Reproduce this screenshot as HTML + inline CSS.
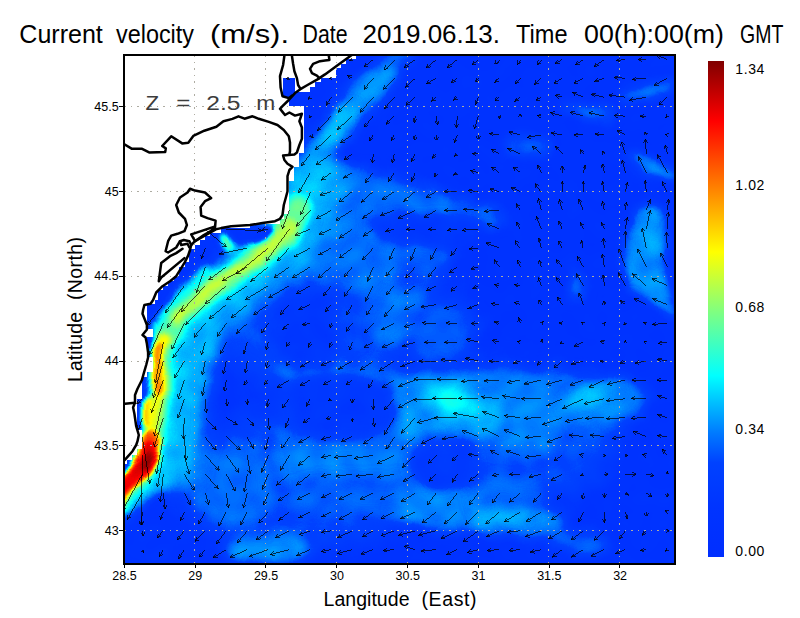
<!DOCTYPE html><html><head><meta charset="utf-8"><title>Current velocity</title>
<style>html,body{margin:0;padding:0;background:#fff}svg{display:block}text{font-family:"Liberation Sans",sans-serif;fill:#000}</style></head><body>
<svg width="800" height="618" viewBox="0 0 800 618">
<defs>
<filter id="b2" filterUnits="userSpaceOnUse" x="60" y="0" width="680" height="618" color-interpolation-filters="sRGB"><feGaussianBlur stdDeviation="2"/></filter>
<filter id="b2_5" filterUnits="userSpaceOnUse" x="60" y="0" width="680" height="618" color-interpolation-filters="sRGB"><feGaussianBlur stdDeviation="2.5"/></filter>
<filter id="b3" filterUnits="userSpaceOnUse" x="60" y="0" width="680" height="618" color-interpolation-filters="sRGB"><feGaussianBlur stdDeviation="3"/></filter>
<filter id="b3_5" filterUnits="userSpaceOnUse" x="60" y="0" width="680" height="618" color-interpolation-filters="sRGB"><feGaussianBlur stdDeviation="3.5"/></filter>
<filter id="b4" filterUnits="userSpaceOnUse" x="60" y="0" width="680" height="618" color-interpolation-filters="sRGB"><feGaussianBlur stdDeviation="4"/></filter>
<filter id="b5" filterUnits="userSpaceOnUse" x="60" y="0" width="680" height="618" color-interpolation-filters="sRGB"><feGaussianBlur stdDeviation="5"/></filter>
<filter id="b6" filterUnits="userSpaceOnUse" x="60" y="0" width="680" height="618" color-interpolation-filters="sRGB"><feGaussianBlur stdDeviation="6"/></filter>
<filter id="b7" filterUnits="userSpaceOnUse" x="60" y="0" width="680" height="618" color-interpolation-filters="sRGB"><feGaussianBlur stdDeviation="7"/></filter>
<filter id="b8" filterUnits="userSpaceOnUse" x="60" y="0" width="680" height="618" color-interpolation-filters="sRGB"><feGaussianBlur stdDeviation="8"/></filter>
<filter id="b14" filterUnits="userSpaceOnUse" x="60" y="0" width="680" height="618" color-interpolation-filters="sRGB"><feGaussianBlur stdDeviation="14"/></filter>
<filter id="jet" filterUnits="userSpaceOnUse" x="60" y="0" width="680" height="618" color-interpolation-filters="sRGB"><feTurbulence type="fractalNoise" baseFrequency="0.035" numOctaves="2" seed="7" result="n"/><feDisplacementMap in="SourceGraphic" in2="n" scale="10" xChannelSelector="R" yChannelSelector="G" result="d"/><feTurbulence type="fractalNoise" baseFrequency="0.055" numOctaves="1" seed="11" result="n2"/><feColorMatrix in="n2" type="matrix" values="1 0 0 0 0  1 0 0 0 0  1 0 0 0 0  0 0 0 0 1" result="ng"/><feComposite in="d" in2="ng" operator="arithmetic" k1="0" k2="1" k3="0.07" k4="-0.035" result="m"/><feComponentTransfer in="m"><feFuncR type="table" tableValues="0.000 0.000 0.000 0.000 0.000 0.000 0.000 0.000 0.000 0.000 0.000 0.000 0.000 0.000 0.000 0.000 0.000 0.000 0.000 0.000 0.000 0.000 0.000 0.000 0.000 0.000 0.000 0.000 0.000 0.000 0.000 0.000 0.000 0.000 0.000 0.000 0.000 0.000 0.000 0.000 0.000 0.000 0.000 0.000 0.000 0.000 0.000 0.020 0.050 0.080 0.111 0.141 0.172 0.202 0.232 0.263 0.293 0.324 0.354 0.384 0.415 0.445 0.476 0.506 0.539 0.572 0.604 0.637 0.670 0.702 0.735 0.768 0.800 0.833 0.866 0.899 0.931 0.964 0.997 1.000 1.000 1.000 1.000 1.000 1.000 1.000 1.000 1.000 1.000 1.000 1.000 1.000 1.000 1.000 1.000 1.000 1.000 1.000 1.000 1.000 1.000 1.000 1.000 1.000 1.000 1.000 1.000 1.000 1.000 1.000 1.000 1.000 0.988 0.956 0.923 0.891 0.858 0.826 0.794 0.761 0.729 0.696 0.664 0.632 0.599 0.567 0.534 0.502"/><feFuncG type="table" tableValues="0.180 0.182 0.184 0.186 0.188 0.190 0.192 0.193 0.195 0.197 0.199 0.201 0.203 0.205 0.210 0.215 0.220 0.225 0.229 0.234 0.239 0.244 0.249 0.253 0.258 0.284 0.313 0.342 0.370 0.399 0.428 0.457 0.487 0.522 0.557 0.592 0.627 0.662 0.697 0.732 0.768 0.805 0.841 0.878 0.914 0.951 0.987 1.000 1.000 1.000 1.000 1.000 1.000 1.000 1.000 1.000 1.000 1.000 1.000 1.000 1.000 1.000 1.000 1.000 1.000 1.000 1.000 1.000 1.000 1.000 1.000 1.000 1.000 1.000 1.000 1.000 1.000 1.000 1.000 0.973 0.943 0.913 0.883 0.852 0.822 0.792 0.762 0.732 0.702 0.671 0.641 0.611 0.581 0.551 0.521 0.491 0.461 0.432 0.402 0.373 0.343 0.314 0.284 0.255 0.225 0.196 0.166 0.137 0.107 0.078 0.048 0.019 0.000 0.000 0.000 0.000 0.000 0.000 0.000 0.000 0.000 0.000 0.000 0.000 0.000 0.000 0.000 0.000"/><feFuncB type="table" tableValues="1.000 1.000 1.000 1.000 1.000 1.000 1.000 1.000 1.000 1.000 1.000 1.000 1.000 1.000 1.000 1.000 1.000 1.000 1.000 1.000 1.000 1.000 1.000 1.000 1.000 1.000 1.000 1.000 1.000 1.000 1.000 1.000 1.000 1.000 1.000 1.000 1.000 1.000 1.000 1.000 1.000 1.000 1.000 1.000 1.000 1.000 1.000 0.981 0.950 0.920 0.890 0.860 0.830 0.800 0.769 0.739 0.709 0.679 0.649 0.619 0.588 0.558 0.528 0.498 0.465 0.432 0.399 0.366 0.333 0.300 0.267 0.234 0.201 0.168 0.135 0.102 0.069 0.036 0.003 0.000 0.000 0.000 0.000 0.000 0.000 0.000 0.000 0.000 0.000 0.000 0.000 0.000 0.000 0.000 0.000 0.000 0.000 0.000 0.000 0.000 0.000 0.000 0.000 0.000 0.000 0.000 0.000 0.000 0.000 0.000 0.000 0.000 0.000 0.000 0.000 0.000 0.000 0.000 0.000 0.000 0.000 0.000 0.000 0.000 0.000 0.000 0.000 0.000"/></feComponentTransfer></filter>
<clipPath id="pc"><rect x="124.0" y="55.0" width="551.0" height="509.0"/></clipPath>
<linearGradient id="cb" x1="0" y1="0" x2="0" y2="1"><stop offset="0.000" stop-color="rgb(128,0,0)"/><stop offset="0.121" stop-color="rgb(255,0,0)"/><stop offset="0.255" stop-color="rgb(255,128,0)"/><stop offset="0.385" stop-color="rgb(255,255,0)"/><stop offset="0.505" stop-color="rgb(128,255,128)"/><stop offset="0.635" stop-color="rgb(0,255,255)"/><stop offset="0.690" stop-color="rgb(0,190,255)"/><stop offset="0.750" stop-color="rgb(0,122,255)"/><stop offset="0.810" stop-color="rgb(0,66,255)"/><stop offset="0.900" stop-color="rgb(0,52,255)"/><stop offset="1.000" stop-color="rgb(0,46,255)"/></linearGradient>
</defs>
<rect width="800" height="618" fill="#fff"/>
<g clip-path="url(#pc)"><g filter="url(#jet)">
<rect x="80" y="20" width="640" height="580" fill="#171717"/>
<g filter="url(#b14)" fill="none" stroke-linecap="round" stroke-linejoin="round">
<path d="M428.3 221.2 C437.4 234.1 442.7 252.3 442.4 269.3 C442.0 286.3 436.0 306.6 426.3 323.0 C416.7 339.4 400.9 356.3 384.5 367.8 C368.1 379.3 346.8 388.4 328.0 391.8 C309.3 395.3 288.2 394.0 272.1 388.5 C256.1 383.0 240.8 371.8 231.7 358.8 C222.6 345.9 217.3 327.7 217.6 310.7 C218.0 293.7 224.0 273.4 233.7 257.0 C243.3 240.6 259.1 223.7 275.5 212.2 C291.9 200.7 313.2 191.6 332.0 188.2 C350.7 184.7 371.8 186.0 387.9 191.5 C403.9 197.0 419.2 208.2 428.3 221.2Z" fill="#333333"/>
<path d="M430.0 480.0 C430.0 491.7 423.4 504.9 412.6 515.0 C401.7 525.1 383.8 534.8 365.0 540.6 C346.2 546.5 321.7 550.0 300.0 550.0 C278.3 550.0 253.8 546.5 235.0 540.6 C216.2 534.8 198.3 525.1 187.4 515.0 C176.6 504.9 170.0 491.7 170.0 480.0 C170.0 468.3 176.6 455.1 187.4 445.0 C198.3 434.9 216.2 425.2 235.0 419.4 C253.8 413.5 278.3 410.0 300.0 410.0 C321.7 410.0 346.2 413.5 365.0 419.4 C383.8 425.2 401.7 434.9 412.6 445.0 C423.4 455.1 430.0 468.3 430.0 480.0Z" fill="#333333"/>
<path d="M620.0 440.0 C620.0 452.5 612.4 466.7 599.9 477.5 C587.4 488.3 566.7 498.7 545.0 505.0 C523.3 511.2 495.0 515.0 470.0 515.0 C445.0 515.0 416.7 511.2 395.0 505.0 C373.3 498.7 352.6 488.3 340.1 477.5 C327.6 466.7 320.0 452.5 320.0 440.0 C320.0 427.5 327.6 413.3 340.1 402.5 C352.6 391.7 373.3 381.3 395.0 375.0 C416.7 368.8 445.0 365.0 470.0 365.0 C495.0 365.0 523.3 368.8 545.0 375.0 C566.7 381.3 587.4 391.7 599.9 402.5 C612.4 413.3 620.0 427.5 620.0 440.0Z" fill="#333333"/>
</g>
<g filter="url(#b6)" fill="none" stroke-linecap="round" stroke-linejoin="round">
<path d="M408.0 46.0 C405.3 48.7 397.5 55.7 392.0 62.0 C386.5 68.3 377.8 80.3 375.0 84.0" stroke="#3e3e3e" stroke-width="20"/>
<path d="M380.0 80.0 C375.8 84.0 362.7 95.7 355.0 104.0 C347.3 112.3 340.0 121.5 334.0 130.0 C328.0 138.5 323.3 146.3 319.0 155.0 C314.7 163.7 311.0 173.2 308.0 182.0 C305.0 190.8 302.2 203.7 301.0 208.0" stroke="#474747" stroke-width="33"/>
</g>
<g filter="url(#b4)" fill="none" stroke-linecap="round" stroke-linejoin="round">
<path d="M347.0 110.0 C344.2 113.8 335.2 124.7 330.0 133.0 C324.8 141.3 320.0 150.5 316.0 160.0 C312.0 169.5 307.7 185.0 306.0 190.0" stroke="#4e4e4e" stroke-width="13"/>
</g>
<g filter="url(#b6)" fill="none" stroke-linecap="round" stroke-linejoin="round">
<path d="M318.0 160.0 C322.2 153.0 331.3 160.0 345.0 163.0 C358.7 166.0 383.3 172.8 400.0 178.0 C416.7 183.2 437.5 187.8 445.0 194.0 C452.5 200.2 455.8 212.0 445.0 215.0 C434.2 218.0 400.8 213.7 380.0 212.0 C359.2 210.3 330.3 213.7 320.0 205.0 C309.7 196.3 313.8 167.0 318.0 160.0Z" fill="#3c3c3c"/>
<path d="M305.0 215.0 C299.2 220.8 283.8 238.3 270.0 250.0 C256.2 261.7 235.0 272.5 222.0 285.0 C209.0 297.5 199.5 309.2 192.0 325.0 C184.5 340.8 180.7 362.5 177.0 380.0 C173.3 397.5 171.8 415.3 170.0 430.0 C168.2 444.7 166.7 461.7 166.0 468.0" stroke="#3c3c3c" stroke-width="40"/>
<path d="M335.0 185.0 C342.5 179.2 364.2 179.2 380.0 180.0 C395.8 180.8 410.8 185.3 430.0 190.0 C449.2 194.7 483.3 202.2 495.0 208.0 C506.7 213.8 509.2 222.7 500.0 225.0 C490.8 227.3 460.0 223.7 440.0 222.0 C420.0 220.3 397.5 216.2 380.0 215.0 C362.5 213.8 342.5 220.0 335.0 215.0 C327.5 210.0 327.5 190.8 335.0 185.0Z" fill="#3c3c3c"/>
<path d="M298.0 212.0 C310.5 201.2 349.3 200.3 360.0 205.0 C370.7 209.7 365.3 229.2 362.0 240.0 C358.7 250.8 348.7 262.5 340.0 270.0 C331.3 277.5 319.2 285.0 310.0 285.0 C300.8 285.0 287.0 282.2 285.0 270.0 C283.0 257.8 285.5 222.8 298.0 212.0Z" fill="#3e3e3e"/>
<path d="M345.0 236.0 C352.8 231.0 375.8 227.7 385.0 232.0 C394.2 236.3 400.8 250.7 400.0 262.0 C399.2 273.3 388.0 295.0 380.0 300.0 C372.0 305.0 359.0 298.3 352.0 292.0 C345.0 285.7 339.2 271.3 338.0 262.0 C336.8 252.7 337.2 241.0 345.0 236.0Z" fill="#3e3e3e"/>
</g>
<g filter="url(#b7)" fill="none" stroke-linecap="round" stroke-linejoin="round">
<path d="M456.0 257.0 C456.0 259.3 454.1 262.0 450.9 264.0 C447.7 266.0 442.5 268.0 437.0 269.1 C431.5 270.3 424.3 271.0 418.0 271.0 C411.7 271.0 404.5 270.3 399.0 269.1 C393.5 268.0 388.3 266.0 385.1 264.0 C381.9 262.0 380.0 259.3 380.0 257.0 C380.0 254.7 381.9 252.0 385.1 250.0 C388.3 248.0 393.5 246.0 399.0 244.9 C404.5 243.7 411.7 243.0 418.0 243.0 C424.3 243.0 431.5 243.7 437.0 244.9 C442.5 246.0 447.7 248.0 450.9 250.0 C454.1 252.0 456.0 254.7 456.0 257.0Z" fill="#3b3b3b"/>
</g>
<g filter="url(#b6)" fill="none" stroke-linecap="round" stroke-linejoin="round">
<path d="M392.0 290.0 C398.7 287.0 416.2 286.2 420.0 292.0 C423.8 297.8 419.7 315.3 415.0 325.0 C410.3 334.7 398.7 347.5 392.0 350.0 C385.3 352.5 377.0 346.7 375.0 340.0 C373.0 333.3 377.2 318.3 380.0 310.0 C382.8 301.7 385.3 293.0 392.0 290.0Z" fill="#404040"/>
</g>
<g filter="url(#b8)" fill="none" stroke-linecap="round" stroke-linejoin="round">
<path d="M478.0 330.0 C478.0 335.7 476.1 342.1 472.9 347.0 C469.7 351.9 464.5 356.6 459.0 359.4 C453.5 362.3 446.3 364.0 440.0 364.0 C433.7 364.0 426.5 362.3 421.0 359.4 C415.5 356.6 410.3 351.9 407.1 347.0 C403.9 342.1 402.0 335.7 402.0 330.0 C402.0 324.3 403.9 317.9 407.1 313.0 C410.3 308.1 415.5 303.4 421.0 300.6 C426.5 297.7 433.7 296.0 440.0 296.0 C446.3 296.0 453.5 297.7 459.0 300.6 C464.5 303.4 469.7 308.1 472.9 313.0 C476.1 317.9 478.0 324.3 478.0 330.0Z" fill="#373737"/>
</g>
<g filter="url(#b6)" fill="none" stroke-linecap="round" stroke-linejoin="round">
<path d="M280.0 362.0 C289.2 359.0 315.0 360.3 335.0 362.0 C355.0 363.7 390.5 368.2 400.0 372.0 C409.5 375.8 403.7 383.7 392.0 385.0 C380.3 386.3 348.7 380.8 330.0 380.0 C311.3 379.2 288.3 383.0 280.0 380.0 C271.7 377.0 270.8 365.0 280.0 362.0Z" fill="#3d3d3d"/>
<path d="M392.0 378.0 C399.5 371.7 425.0 372.0 440.0 372.0 C455.0 372.0 475.0 367.0 482.0 378.0 C489.0 389.0 489.0 429.0 482.0 438.0 C475.0 447.0 450.7 430.8 440.0 432.0 C429.3 433.2 426.7 442.8 418.0 445.0 C409.3 447.2 391.8 450.8 388.0 445.0 C384.2 439.2 394.3 421.2 395.0 410.0 C395.7 398.8 384.5 384.3 392.0 378.0Z" fill="#454545"/>
</g>
<g filter="url(#b7)" fill="none" stroke-linecap="round" stroke-linejoin="round">
<path d="M480.0 376.0 C493.3 364.8 540.0 372.8 560.0 373.0 C580.0 373.2 587.5 375.8 600.0 377.0 C612.5 378.2 626.7 377.5 635.0 380.0 C643.3 382.5 649.2 386.2 650.0 392.0 C650.8 397.8 648.3 408.3 640.0 415.0 C631.7 421.7 613.3 429.5 600.0 432.0 C586.7 434.5 569.2 426.0 560.0 430.0 C550.8 434.0 555.0 452.7 545.0 456.0 C535.0 459.3 510.8 452.7 500.0 450.0 C489.2 447.3 483.3 452.3 480.0 440.0 C476.7 427.7 466.7 387.2 480.0 376.0Z" fill="#424242"/>
</g>
<g filter="url(#b6)" fill="none" stroke-linecap="round" stroke-linejoin="round">
<path d="M280.0 437.0 C290.0 430.7 318.3 440.2 340.0 440.0 C361.7 439.8 398.3 429.7 410.0 436.0 C421.7 442.3 421.7 470.3 410.0 478.0 C398.3 485.7 361.7 482.0 340.0 482.0 C318.3 482.0 290.0 485.5 280.0 478.0 C270.0 470.5 270.0 443.3 280.0 437.0Z" fill="#404040"/>
</g>
<g filter="url(#b8)" fill="none" stroke-linecap="round" stroke-linejoin="round">
<path d="M480.0 500.0 C480.0 503.0 474.9 506.4 466.6 509.0 C458.3 511.6 444.4 514.1 430.0 515.6 C415.6 517.1 396.7 518.0 380.0 518.0 C363.3 518.0 344.4 517.1 330.0 515.6 C315.6 514.1 301.7 511.6 293.4 509.0 C285.1 506.4 280.0 503.0 280.0 500.0 C280.0 497.0 285.1 493.6 293.4 491.0 C301.7 488.4 315.6 485.9 330.0 484.4 C344.4 482.9 363.3 482.0 380.0 482.0 C396.7 482.0 415.6 482.9 430.0 484.4 C444.4 485.9 458.3 488.4 466.6 491.0 C474.9 493.6 480.0 497.0 480.0 500.0Z" fill="#393939"/>
</g>
<g filter="url(#b6)" fill="none" stroke-linecap="round" stroke-linejoin="round">
<path d="M399.0 487.0 C405.8 481.2 423.2 483.7 440.0 485.0 C456.8 486.3 480.0 490.5 500.0 495.0 C520.0 499.5 550.7 505.2 560.0 512.0 C569.3 518.8 566.0 532.0 556.0 536.0 C546.0 540.0 519.3 537.3 500.0 536.0 C480.7 534.7 456.8 530.7 440.0 528.0 C423.2 525.3 405.8 526.8 399.0 520.0 C392.2 513.2 392.2 492.8 399.0 487.0Z" fill="#424242"/>
<path d="M611.9 544.8 C611.7 546.9 609.9 549.3 607.0 550.9 C604.2 552.5 599.7 553.9 595.0 554.6 C590.3 555.3 584.2 555.4 578.9 555.0 C573.6 554.5 567.6 553.3 563.1 551.8 C558.6 550.3 554.3 548.2 551.8 546.1 C549.3 544.0 547.9 541.4 548.1 539.2 C548.3 537.1 550.1 534.7 553.0 533.1 C555.8 531.5 560.3 530.1 565.0 529.4 C569.7 528.7 575.8 528.6 581.1 529.0 C586.4 529.5 592.4 530.7 596.9 532.2 C601.4 533.7 605.7 535.8 608.2 537.9 C610.7 540.0 612.1 542.6 611.9 544.8Z" fill="#393939"/>
</g>
<g filter="url(#b7)" fill="none" stroke-linecap="round" stroke-linejoin="round">
<path d="M542.0 498.0 C542.0 501.0 540.3 504.4 537.4 507.0 C534.6 509.6 529.9 512.1 525.0 513.6 C520.1 515.1 513.7 516.0 508.0 516.0 C502.3 516.0 495.9 515.1 491.0 513.6 C486.1 512.1 481.4 509.6 478.6 507.0 C475.7 504.4 474.0 501.0 474.0 498.0 C474.0 495.0 475.7 491.6 478.6 489.0 C481.4 486.4 486.1 483.9 491.0 482.4 C495.9 480.9 502.3 480.0 508.0 480.0 C513.7 480.0 520.1 480.9 525.0 482.4 C529.9 483.9 534.6 486.4 537.4 489.0 C540.3 491.6 542.0 495.0 542.0 498.0Z" fill="#3d3d3d"/>
</g>
<g filter="url(#b8)" fill="none" stroke-linecap="round" stroke-linejoin="round">
<path d="M274.0 485.0 C274.0 492.5 271.9 501.0 268.4 507.5 C264.9 514.0 259.1 520.2 253.0 524.0 C246.9 527.7 239.0 530.0 232.0 530.0 C225.0 530.0 217.1 527.7 211.0 524.0 C204.9 520.2 199.1 514.0 195.6 507.5 C192.1 501.0 190.0 492.5 190.0 485.0 C190.0 477.5 192.1 469.0 195.6 462.5 C199.1 456.0 204.9 449.8 211.0 446.0 C217.1 442.3 225.0 440.0 232.0 440.0 C239.0 440.0 246.9 442.3 253.0 446.0 C259.1 449.8 264.9 456.0 268.4 462.5 C271.9 469.0 274.0 477.5 274.0 485.0Z" fill="#3c3c3c"/>
</g>
<g filter="url(#b6)" fill="none" stroke-linecap="round" stroke-linejoin="round">
<path d="M232.0 536.0 C243.3 531.7 288.0 532.0 300.0 536.0 C312.0 540.0 315.3 555.7 304.0 560.0 C292.7 564.3 244.0 566.0 232.0 562.0 C220.0 558.0 220.7 540.3 232.0 536.0Z" fill="#444444"/>
</g>
<g filter="url(#b5)" fill="none" stroke-linecap="round" stroke-linejoin="round">
<path d="M620.0 96.0 C622.8 92.7 637.0 86.7 645.0 84.0 C653.0 81.3 663.3 79.2 668.0 80.0 C672.7 80.8 675.2 86.0 673.0 89.0 C670.8 92.0 662.5 95.5 655.0 98.0 C647.5 100.5 633.8 104.3 628.0 104.0 C622.2 103.7 617.2 99.3 620.0 96.0Z" fill="#404040"/>
<path d="M567.0 103.0 C573.7 102.0 600.7 105.2 608.0 108.0 C615.3 110.8 617.7 119.0 611.0 120.0 C604.3 121.0 575.3 116.8 568.0 114.0 C560.7 111.2 560.3 104.0 567.0 103.0Z" fill="#3d3d3d"/>
<path d="M507.0 137.0 C513.3 134.0 538.7 134.0 545.0 137.0 C551.3 140.0 551.3 152.0 545.0 155.0 C538.7 158.0 513.3 158.0 507.0 155.0 C500.7 152.0 500.7 140.0 507.0 137.0Z" fill="#373737"/>
<path d="M628.0 152.0 C629.7 149.3 642.2 153.0 650.0 156.0 C657.8 159.0 670.8 165.7 675.0 170.0 C679.2 174.3 680.8 181.7 675.0 182.0 C669.2 182.3 647.8 177.0 640.0 172.0 C632.2 167.0 626.3 154.7 628.0 152.0Z" fill="#444444"/>
<path d="M636.0 209.0 C642.0 203.8 659.0 200.5 664.0 209.0 C669.0 217.5 664.2 244.8 666.0 260.0 C667.8 275.2 673.5 290.7 675.0 300.0 C676.5 309.3 680.8 316.7 675.0 316.0 C669.2 315.3 648.8 303.3 640.0 296.0 C631.2 288.7 624.0 281.3 622.0 272.0 C620.0 262.7 625.7 250.5 628.0 240.0 C630.3 229.5 630.0 214.2 636.0 209.0Z" fill="#454545"/>
</g>
<g filter="url(#b4)" fill="none" stroke-linecap="round" stroke-linejoin="round">
<path d="M657.9 239.1 C657.4 243.1 656.3 247.5 655.2 250.8 C654.0 254.2 652.5 257.3 651.1 259.1 C649.6 261.0 648.0 262.0 646.7 261.8 C645.3 261.6 644.0 260.2 643.1 258.0 C642.3 255.9 641.6 252.4 641.5 248.9 C641.3 245.4 641.5 240.8 642.1 236.9 C642.6 232.9 643.7 228.5 644.8 225.2 C646.0 221.8 647.5 218.7 648.9 216.9 C650.4 215.0 652.0 214.0 653.3 214.2 C654.7 214.4 656.0 215.8 656.9 218.0 C657.7 220.1 658.4 223.6 658.5 227.1 C658.7 230.6 658.5 235.2 657.9 239.1Z" fill="#4a4a4a"/>
</g>
<g filter="url(#b5)" fill="none" stroke-linecap="round" stroke-linejoin="round">
<path d="M570.0 276.0 C572.5 272.2 582.5 272.2 585.0 276.0 C587.5 279.8 587.5 295.2 585.0 299.0 C582.5 302.8 572.5 302.8 570.0 299.0 C567.5 295.2 567.5 279.8 570.0 276.0Z" fill="#383838"/>
<path d="M480.0 209.0 C482.5 205.7 492.5 205.7 495.0 209.0 C497.5 212.3 497.5 225.7 495.0 229.0 C492.5 232.3 482.5 232.3 480.0 229.0 C477.5 225.7 477.5 212.3 480.0 209.0Z" fill="#3b3b3b"/>
</g>
<g filter="url(#b7)" fill="none" stroke-linecap="round" stroke-linejoin="round">
<path d="M282.0 300.0 C290.8 292.0 315.7 287.0 325.0 292.0 C334.3 297.0 337.2 318.3 338.0 330.0 C338.8 341.7 337.2 356.2 330.0 362.0 C322.8 367.8 304.7 368.7 295.0 365.0 C285.3 361.3 274.2 350.8 272.0 340.0 C269.8 329.2 273.2 308.0 282.0 300.0Z" fill="#1f1f1f"/>
</g>
<g filter="url(#b6)" fill="none" stroke-linecap="round" stroke-linejoin="round">
<path d="M308.0 382.0 C320.7 374.3 369.3 376.3 382.0 384.0 C394.7 391.7 390.2 419.7 384.0 428.0 C377.8 436.3 358.0 433.7 345.0 434.0 C332.0 434.3 312.2 438.7 306.0 430.0 C299.8 421.3 295.3 389.7 308.0 382.0Z" fill="#212121"/>
<path d="M418.0 447.0 C426.3 441.2 459.3 441.2 468.0 447.0 C476.7 452.8 478.3 476.2 470.0 482.0 C461.7 487.8 426.7 487.8 418.0 482.0 C409.3 476.2 409.7 452.8 418.0 447.0Z" fill="#242424"/>
<path d="M385.0 220.0 C400.5 217.0 462.5 216.7 478.0 220.0 C493.5 223.3 493.5 237.0 478.0 240.0 C462.5 243.0 400.5 241.3 385.0 238.0 C369.5 234.7 369.5 223.0 385.0 220.0Z" fill="#212121"/>
</g>
<g filter="url(#b4)" fill="none" stroke-linecap="round" stroke-linejoin="round">
<path d="M350.0 108.0 L334.0 130.0" stroke="#4c4c4c" stroke-width="12"/>
</g>
<g filter="url(#b5)" fill="none" stroke-linecap="round" stroke-linejoin="round">
<path d="M501.7 424.4 C500.1 427.8 496.3 430.5 491.5 431.8 C486.6 433.1 479.6 433.1 472.8 432.0 C466.0 430.8 457.7 428.2 450.7 424.9 C443.8 421.7 436.3 417.0 431.1 412.5 C425.9 408.1 421.4 402.6 419.2 398.1 C417.1 393.6 416.8 388.9 418.3 385.6 C419.9 382.2 423.7 379.5 428.5 378.2 C433.4 376.9 440.4 376.9 447.2 378.0 C454.0 379.2 462.3 381.8 469.3 385.1 C476.2 388.3 483.7 393.0 488.9 397.5 C494.1 401.9 498.6 407.4 500.8 411.9 C502.9 416.4 503.2 421.1 501.7 424.4Z" fill="#4c4c4c"/>
</g>
<g filter="url(#b4)" fill="none" stroke-linecap="round" stroke-linejoin="round">
<path d="M481.3 411.6 C480.4 414.1 478.0 416.4 475.1 417.8 C472.1 419.2 467.7 419.9 463.4 419.8 C459.2 419.7 453.9 418.6 449.5 417.0 C445.1 415.4 440.4 412.9 437.1 410.2 C433.8 407.6 430.9 404.2 429.5 401.2 C428.1 398.3 427.8 394.9 428.7 392.4 C429.6 389.9 432.0 387.6 434.9 386.2 C437.9 384.8 442.3 384.1 446.6 384.2 C450.8 384.3 456.1 385.4 460.5 387.0 C464.9 388.6 469.6 391.1 472.9 393.8 C476.2 396.4 479.1 399.8 480.5 402.8 C481.9 405.7 482.2 409.1 481.3 411.6Z" fill="#555555"/>
</g>
<g filter="url(#b3)" fill="none" stroke-linecap="round" stroke-linejoin="round">
<path d="M465.8 402.3 C465.5 403.7 464.6 405.3 463.3 406.4 C462.0 407.5 460.0 408.4 458.0 408.8 C456.1 409.2 453.6 409.2 451.4 408.9 C449.3 408.5 447.0 407.6 445.2 406.5 C443.5 405.5 442.0 403.9 441.1 402.5 C440.3 401.0 439.9 399.2 440.2 397.7 C440.5 396.3 441.4 394.7 442.7 393.6 C444.0 392.5 446.0 391.6 448.0 391.2 C449.9 390.8 452.4 390.8 454.6 391.1 C456.7 391.5 459.0 392.4 460.8 393.5 C462.5 394.5 464.0 396.1 464.9 397.5 C465.7 399.0 466.1 400.8 465.8 402.3Z" fill="#606060"/>
</g>
<g filter="url(#b4)" fill="none" stroke-linecap="round" stroke-linejoin="round">
<path d="M578.0 384.0 C578.0 385.0 577.6 386.1 576.9 387.0 C576.3 387.9 575.2 388.7 574.0 389.2 C572.8 389.7 571.3 390.0 570.0 390.0 C568.7 390.0 567.2 389.7 566.0 389.2 C564.8 388.7 563.7 387.9 563.1 387.0 C562.4 386.1 562.0 385.0 562.0 384.0 C562.0 383.0 562.4 381.9 563.1 381.0 C563.7 380.1 564.8 379.3 566.0 378.8 C567.2 378.3 568.7 378.0 570.0 378.0 C571.3 378.0 572.8 378.3 574.0 378.8 C575.2 379.3 576.3 380.1 576.9 381.0 C577.6 381.9 578.0 383.0 578.0 384.0Z" fill="#373737"/>
<path d="M592.0 429.0 C592.0 430.0 591.5 431.1 590.7 432.0 C589.8 432.9 588.4 433.7 587.0 434.2 C585.6 434.7 583.7 435.0 582.0 435.0 C580.3 435.0 578.4 434.7 577.0 434.2 C575.6 433.7 574.2 432.9 573.3 432.0 C572.5 431.1 572.0 430.0 572.0 429.0 C572.0 428.0 572.5 426.9 573.3 426.0 C574.2 425.1 575.6 424.3 577.0 423.8 C578.4 423.3 580.3 423.0 582.0 423.0 C583.7 423.0 585.6 423.3 587.0 423.8 C588.4 424.3 589.8 425.1 590.7 426.0 C591.5 426.9 592.0 428.0 592.0 429.0Z" fill="#373737"/>
</g>
<g filter="url(#b5)" fill="none" stroke-linecap="round" stroke-linejoin="round">
<path d="M620.2 385.7 C620.8 387.5 620.1 389.9 618.3 392.3 C616.5 394.6 613.1 397.5 609.4 399.8 C605.6 402.2 600.5 404.6 595.8 406.3 C591.1 408.0 585.5 409.5 581.2 410.1 C576.8 410.7 572.4 410.7 569.5 410.1 C566.6 409.4 564.4 408.0 563.8 406.3 C563.2 404.5 563.9 402.1 565.7 399.7 C567.5 397.4 570.9 394.5 574.6 392.2 C578.4 389.8 583.5 387.4 588.2 385.7 C592.9 384.0 598.5 382.5 602.8 381.9 C607.2 381.3 611.6 381.3 614.5 381.9 C617.4 382.6 619.6 384.0 620.2 385.7Z" fill="#4c4c4c"/>
</g>
<g filter="url(#b4)" fill="none" stroke-linecap="round" stroke-linejoin="round">
<path d="M603.2 390.2 C603.5 391.2 603.2 392.5 602.4 393.7 C601.6 394.9 600.1 396.3 598.4 397.5 C596.6 398.6 594.2 399.8 592.1 400.6 C589.9 401.4 587.3 402.1 585.2 402.3 C583.1 402.5 581.0 402.4 579.6 402.0 C578.2 401.6 577.2 400.7 576.8 399.8 C576.5 398.8 576.8 397.5 577.6 396.3 C578.4 395.1 579.9 393.7 581.6 392.5 C583.4 391.4 585.8 390.2 587.9 389.4 C590.1 388.6 592.7 387.9 594.8 387.7 C596.9 387.5 599.0 387.6 600.4 388.0 C601.8 388.4 602.8 389.3 603.2 390.2Z" fill="#545454"/>
<path d="M480.0 516.0 L525.0 518.0" stroke="#4a4a4a" stroke-width="14"/>
</g>
<g filter="url(#b8)" fill="none" stroke-linecap="round" stroke-linejoin="round">
<path d="M316.0 178.0 C313.8 185.3 311.0 208.7 303.0 222.0 C295.0 235.3 280.5 246.3 268.0 258.0 C255.5 269.7 239.3 280.3 228.0 292.0 C216.7 303.7 207.2 314.7 200.0 328.0 C192.8 341.3 188.8 356.7 185.0 372.0 C181.2 387.3 179.5 405.0 177.0 420.0 C174.5 435.0 171.2 455.0 170.0 462.0" stroke="#4c4c4c" stroke-width="58"/>
</g>
<g filter="url(#b5)" fill="none" stroke-linecap="round" stroke-linejoin="round">
<path d="M306.0 190.0 C304.3 195.3 302.3 211.7 296.0 222.0 C289.7 232.3 278.0 243.0 268.0 252.0 C258.0 261.0 246.5 268.3 236.0 276.0 C225.5 283.7 214.0 290.3 205.0 298.0 C196.0 305.7 187.8 311.7 182.0 322.0 C176.2 332.3 173.0 345.3 170.0 360.0 C167.0 374.7 166.0 395.0 164.0 410.0 C162.0 425.0 161.0 438.3 158.0 450.0 C155.0 461.7 152.7 470.7 146.0 480.0 C139.3 489.3 122.7 501.7 118.0 506.0" stroke="#525252" stroke-width="32"/>
</g>
<g filter="url(#b4)" fill="none" stroke-linecap="round" stroke-linejoin="round">
<path d="M204.0 274.0 C199.7 278.0 185.7 289.0 178.0 298.0 C170.3 307.0 161.3 323.0 158.0 328.0" stroke="#616161" stroke-width="14"/>
</g>
<g filter="url(#b3_5)" fill="none" stroke-linecap="round" stroke-linejoin="round">
<path d="M298.0 205.0 C296.5 209.2 294.0 222.5 289.0 230.0 C284.0 237.5 276.5 243.0 268.0 250.0 C259.5 257.0 248.0 265.0 238.0 272.0 C228.0 279.0 217.2 285.2 208.0 292.0 C198.8 298.8 190.2 304.5 183.0 313.0 C175.8 321.5 169.0 329.3 165.0 343.0 C161.0 356.7 160.8 379.7 159.0 395.0 C157.2 410.3 156.8 422.2 154.0 435.0 C151.2 447.8 148.0 460.7 142.0 472.0 C136.0 483.3 122.0 497.8 118.0 503.0" stroke="#757575" stroke-width="22"/>
</g>
<g filter="url(#b3)" fill="none" stroke-linecap="round" stroke-linejoin="round">
<path d="M291.0 222.0 C289.5 224.5 285.8 232.3 282.0 237.0 C278.2 241.7 275.0 244.5 268.0 250.0 C261.0 255.5 249.3 263.7 240.0 270.0 C230.7 276.3 220.0 282.3 212.0 288.0 C204.0 293.7 198.0 298.7 192.0 304.0 C186.0 309.3 178.7 317.3 176.0 320.0" stroke="#8f8f8f" stroke-width="11"/>
</g>
<g filter="url(#b2_5)" fill="none" stroke-linecap="round" stroke-linejoin="round">
<path d="M226.0 232.0 C233.0 229.7 265.0 226.7 272.0 228.0 C279.0 229.3 272.0 237.2 268.0 240.0 C264.0 242.8 254.3 244.7 248.0 245.0 C241.7 245.3 233.7 244.2 230.0 242.0 C226.3 239.8 219.0 234.3 226.0 232.0Z" fill="#1a1a1a"/>
</g>
<g filter="url(#b3)" fill="none" stroke-linecap="round" stroke-linejoin="round">
<path d="M222.0 236.0 L230.0 248.0" stroke="#858585" stroke-width="8"/>
</g>
<g filter="url(#b7)" fill="none" stroke-linecap="round" stroke-linejoin="round">
<path d="M190.0 545.0 C190.0 550.0 188.0 555.7 184.6 560.0 C181.3 564.3 175.8 568.5 170.0 571.0 C164.2 573.5 156.7 575.0 150.0 575.0 C143.3 575.0 135.8 573.5 130.0 571.0 C124.2 568.5 118.7 564.3 115.4 560.0 C112.0 555.7 110.0 550.0 110.0 545.0 C110.0 540.0 112.0 534.3 115.4 530.0 C118.7 525.7 124.2 521.5 130.0 519.0 C135.8 516.5 143.3 515.0 150.0 515.0 C156.7 515.0 164.2 516.5 170.0 519.0 C175.8 521.5 181.3 525.7 184.6 530.0 C188.0 534.3 190.0 540.0 190.0 545.0Z" fill="#1a1a1a"/>
</g>
<g filter="url(#b3)" fill="none" stroke-linecap="round" stroke-linejoin="round">
<path d="M165.0 338.0 C164.2 341.0 161.2 346.5 160.0 356.0 C158.8 365.5 159.2 382.3 158.0 395.0 C156.8 407.7 155.8 419.8 153.0 432.0 C150.2 444.2 146.8 457.0 141.0 468.0 C135.2 479.0 121.8 493.0 118.0 498.0" stroke="#9e9e9e" stroke-width="12"/>
</g>
<g filter="url(#b2_5)" fill="none" stroke-linecap="round" stroke-linejoin="round">
<path d="M160.0 348.0 C159.5 351.3 157.7 360.7 157.0 368.0 C156.3 375.3 156.2 388.0 156.0 392.0" stroke="#bdbdbd" stroke-width="8"/>
<path d="M148.0 402.0 L148.0 425.0" stroke="#b2b2b2" stroke-width="7"/>
<path d="M151.0 441.0 C150.3 443.7 150.3 450.5 147.0 457.0 C143.7 463.5 136.2 473.2 131.0 480.0 C125.8 486.8 118.5 495.0 116.0 498.0" stroke="#cccccc" stroke-width="18"/>
</g>
<g filter="url(#b2)" fill="none" stroke-linecap="round" stroke-linejoin="round">
<path d="M150.0 448.0 C149.5 450.0 149.8 455.0 147.0 460.0 C144.2 465.0 137.8 472.3 133.0 478.0 C128.2 483.7 120.5 491.3 118.0 494.0" stroke="#e6e6e6" stroke-width="13"/>
<path d="M149.0 454.0 L144.0 467.0" stroke="#fafafa" stroke-width="6"/>
</g>
</g>
<g fill="#fff" shape-rendering="crispEdges">
<rect x="123.00" y="54.00" width="233.25" height="4.80"/>
<rect x="123.00" y="58.75" width="223.25" height="4.80"/>
<rect x="123.00" y="63.50" width="218.25" height="4.75"/>
<rect x="123.00" y="68.20" width="213.00" height="9.45"/>
<rect x="123.00" y="77.60" width="160.10" height="4.75"/>
<rect x="295.00" y="77.60" width="25.60" height="4.75"/>
<rect x="123.00" y="82.30" width="160.10" height="4.75"/>
<rect x="295.00" y="82.30" width="20.00" height="4.75"/>
<rect x="123.00" y="87.00" width="160.10" height="4.75"/>
<rect x="295.00" y="87.00" width="15.00" height="4.75"/>
<rect x="123.00" y="91.70" width="160.10" height="4.85"/>
<rect x="123.00" y="96.50" width="165.75" height="9.45"/>
<rect x="123.00" y="105.90" width="181.00" height="47.15"/>
<rect x="123.00" y="153.00" width="176.00" height="14.15"/>
<rect x="123.00" y="167.10" width="170.75" height="14.25"/>
<rect x="123.00" y="181.30" width="165.50" height="33.05"/>
<rect x="123.00" y="214.30" width="161.00" height="4.75"/>
<rect x="123.00" y="219.00" width="157.00" height="4.75"/>
<rect x="123.00" y="223.70" width="127.00" height="4.75"/>
<rect x="123.00" y="228.40" width="98.00" height="4.15"/>
<rect x="123.00" y="232.50" width="87.00" height="3.15"/>
<rect x="123.00" y="235.60" width="82.00" height="4.45"/>
<rect x="123.00" y="240.00" width="77.00" height="5.05"/>
<rect x="123.00" y="245.00" width="72.00" height="4.45"/>
<rect x="123.00" y="249.40" width="67.00" height="3.15"/>
<rect x="123.00" y="252.50" width="66.40" height="9.45"/>
<rect x="123.00" y="261.90" width="62.00" height="5.05"/>
<rect x="123.00" y="266.90" width="56.40" height="9.40"/>
<rect x="123.00" y="276.25" width="50.75" height="4.80"/>
<rect x="123.00" y="281.00" width="45.10" height="4.65"/>
<rect x="123.00" y="285.60" width="40.00" height="4.75"/>
<rect x="123.00" y="290.30" width="34.50" height="9.45"/>
<rect x="123.00" y="299.70" width="32.00" height="4.35"/>
<rect x="123.00" y="304.00" width="24.00" height="25.05"/>
<rect x="123.00" y="329.00" width="29.50" height="8.05"/>
<rect x="123.00" y="337.00" width="24.00" height="20.05"/>
<rect x="123.00" y="357.00" width="29.50" height="15.05"/>
<rect x="123.00" y="372.00" width="24.00" height="5.05"/>
<rect x="123.00" y="377.00" width="19.00" height="22.05"/>
<rect x="123.00" y="399.00" width="14.00" height="31.05"/>
<rect x="123.00" y="430.00" width="19.25" height="19.05"/>
<rect x="123.00" y="449.00" width="14.00" height="6.05"/>
<rect x="123.00" y="455.00" width="9.00" height="4.55"/>
<rect x="123.00" y="459.50" width="3.50" height="4.55"/>
</g>
<g stroke="#aeaca2" stroke-width="1" stroke-dasharray="2 4.5 1 5.5" fill="none" shape-rendering="crispEdges">
<path d="M194.5 55.0 V564.0"/>
<path d="M265.5 55.0 V564.0"/>
<path d="M336.5 55.0 V564.0"/>
<path d="M407.5 55.0 V564.0"/>
<path d="M478.5 55.0 V564.0"/>
<path d="M548.5 55.0 V564.0"/>
<path d="M619.5 55.0 V564.0"/>
<path d="M124.0 106.5 H675.0"/>
<path d="M124.0 191.5 H675.0"/>
<path d="M124.0 276.5 H675.0"/>
<path d="M124.0 361.5 H675.0"/>
<path d="M124.0 445.5 H675.0"/>
<path d="M124.0 530.5 H675.0"/>
</g>
<g stroke="#000" stroke-width="2.5" fill="none" stroke-linejoin="round" stroke-linecap="round">
<path d="M124.4 144.4 L132.0 148.8 L142.1 148.8 L149.1 152.4 L165.2 152.0 L165.8 148.4 L162.2 146.0 L171.2 136.3 L182.2 143.4 L188.3 142.8 L193.3 135.9 L204.3 130.7 L216.4 126.7 L223.4 121.3 L232.4 118.9 L238.5 116.3 L244.5 118.7 L252.5 116.3 L258.8 118.8 L268.8 121.9 L277.5 125.0 L283.8 130.0 L288.8 136.2 L290.0 142.5 L290.0 151.2 L289.4 154.4"/>
<path d="M352.5 54.5 L350.0 56.2 L336.2 66.2 L325.0 74.4 L317.5 79.4 L307.5 85.0 L300.0 89.4 L295.0 93.1 L288.8 100.0 L282.5 106.2 L280.0 108.8 L282.5 111.9 L285.0 115.0 L289.4 112.5 L295.0 115.6 L301.9 113.8 L299.4 121.2 L301.9 127.5 L301.9 138.8 L299.4 145.0 L296.9 152.5 L294.4 154.4 L283.1 155.6 L284.4 160.0 L287.5 163.8 L292.5 166.9 L289.4 170.0 L287.5 176.2 L287.5 191.2 L286.2 196.2 L283.8 205.0 L282.5 215.0 L280.0 218.8 L275.0 221.2 L262.5 223.1 L250.0 225.0 L231.2 226.2 L221.2 228.1 L212.5 230.0 L203.8 235.0 L195.0 241.2 L191.2 245.0 L190.0 250.0 L188.1 255.6 L185.0 261.9 L181.2 268.1 L176.2 276.2 L170.0 281.2 L162.5 286.2 L156.2 292.5 L153.1 300.0 L150.6 303.8 L144.4 305.0 L143.1 310.0 L142.5 313.8 L145.0 320.0 L146.9 325.0 L146.9 329.4 L142.5 335.0 L145.6 337.5 L146.9 343.8 L148.1 352.5 L148.1 357.5 L146.2 365.0 L144.4 371.2 L141.9 380.0 L137.5 388.8 L135.0 395.0 L135.0 402.5 L133.1 407.5 L134.4 413.8 L136.2 426.2 L138.8 435.0 L137.5 441.2 L136.2 445.0 L132.5 451.2 L127.5 456.9 L124.8 460.0"/>
<path d="M211.9 229.4 L215.0 228.1 L215.6 220.6 L207.5 218.1 L201.2 215.6 L200.6 206.9 L205.0 201.2 L211.2 198.1 L205.0 192.5 L195.0 190.6 L190.0 188.8 L187.5 192.5 L180.0 197.5 L176.2 205.0 L178.8 212.5 L185.0 218.8 L186.9 225.0 L184.4 231.2 L177.5 233.8 L171.2 235.6 L168.1 241.2 L165.6 251.2 L168.1 252.5 L176.2 247.5 L180.0 241.2 L183.8 240.0 L189.4 241.2 L191.2 245.0"/>
<path d="M191.2 234.4 L213.8 226.9 L215.0 230.0 L195.0 241.2 L191.2 234.4"/>
<path d="M184.4 258.1 L161.2 277.5 L158.8 281.2 L161.2 263.1 L170.0 256.2 L176.2 253.1 L182.5 248.8"/>
<path d="M284.4 55.6 L283.1 65.0 L280.0 76.2 L280.6 87.5 L282.5 96.2 L288.8 98.1 L291.9 95.6"/>
<path d="M291.9 55.6 L293.1 63.8 L294.4 71.2 L296.9 78.1 L298.1 85.0 L300.0 88.1"/>
<path d="M328.8 55.5 L329.4 60.0 L325.0 60.6 L320.0 61.2 L313.1 63.8 L310.0 68.8 L311.9 73.1 L316.9 75.6 L319.4 78.1"/>
<path d="M125.0 403.8 L135.0 402.8"/>
<path d="M180.0 241.2 L181.2 245.0 L187.5 243.8 L189.4 247.5"/>
</g>
<path d="M352.3 59.5 L349.3 60.5 M349.3 60.5 L352.7 60.9 M349.3 60.5 L351.7 58.1 M373.3 59.5 L363.8 67.0 M363.8 67.0 L368.0 66.1 M363.8 67.0 L365.7 63.1 M394.3 59.5 L384.3 69.5 M384.3 69.5 L388.4 68.1 M384.3 69.5 L385.7 65.4 M415.3 59.5 L404.3 67.5 M404.3 67.5 L408.5 66.8 M404.3 67.5 L406.3 63.7 M436.3 59.5 L426.3 68.0 M426.3 68.0 L430.5 66.9 M426.3 68.0 L428.0 64.1 M457.3 59.5 L447.3 67.5 M447.3 67.5 L451.5 66.6 M447.3 67.5 L449.1 63.6 M478.3 59.5 L472.3 65.0 M472.3 65.0 L476.4 63.8 M472.3 65.0 L473.9 61.0 M499.3 59.5 L494.8 64.0 M494.8 64.0 L498.9 62.6 M494.8 64.0 L496.2 59.9 M520.3 59.5 L517.3 64.5 M517.3 64.5 L520.9 62.2 M517.3 64.5 L517.7 60.2 M541.3 59.5 L537.3 64.5 M537.3 64.5 L541.2 62.7 M537.3 64.5 L538.2 60.3 M562.3 59.5 L555.3 63.5 M555.3 63.5 L559.6 63.2 M555.3 63.5 L557.7 59.9 M583.3 59.5 L575.3 65.0 M575.3 65.0 L579.6 64.4 M575.3 65.0 L577.4 61.3 M604.3 59.5 L594.3 66.5 M594.3 66.5 L598.5 65.8 M594.3 66.5 L596.4 62.7 M625.3 59.5 L616.3 60.5 M616.3 60.5 L620.3 61.9 M616.3 60.5 L619.9 58.2 M646.3 59.5 L638.3 59.5 M638.3 59.5 L642.2 61.4 M638.3 59.5 L642.2 57.6 M667.3 59.5 L657.3 55.5 M657.3 55.5 L660.2 58.7 M657.3 55.5 L661.6 55.2 M289.3 78.3 L286.3 78.8 M286.3 78.8 L289.6 79.8 M286.3 78.8 L289.1 76.9 M331.3 78.3 L329.3 78.3 M329.3 78.3 L332.4 79.8 M329.3 78.3 L332.4 76.9 M352.3 78.3 L347.3 75.3 M347.3 75.3 L349.6 79.0 M347.3 75.3 L351.6 75.7 M373.3 78.3 L363.8 89.3 M363.8 89.3 L367.8 87.7 M363.8 89.3 L364.9 85.2 M394.3 78.3 L383.3 89.3 M383.3 89.3 L387.4 88.0 M383.3 89.3 L384.7 85.3 M415.3 78.3 L405.3 87.3 M405.3 87.3 L409.4 86.2 M405.3 87.3 L406.9 83.4 M436.3 78.3 L426.3 83.8 M426.3 83.8 L430.6 83.6 M426.3 83.8 L428.8 80.3 M457.3 78.3 L451.3 82.3 M451.3 82.3 L455.6 81.8 M451.3 82.3 L453.5 78.6 M478.3 78.3 L475.8 82.3 M475.8 82.3 L479.4 80.1 M475.8 82.3 L476.2 78.1 M499.3 78.3 L494.3 82.3 M494.3 82.3 L498.5 81.4 M494.3 82.3 L496.1 78.5 M520.3 78.3 L515.3 83.8 M515.3 83.8 L519.3 82.3 M515.3 83.8 L516.5 79.7 M541.3 78.3 L534.3 84.3 M534.3 84.3 L538.5 83.3 M534.3 84.3 L536.0 80.4 M562.3 78.3 L553.8 83.3 M553.8 83.3 L558.1 83.0 M553.8 83.3 L556.2 79.8 M583.3 78.3 L573.8 83.3 M573.8 83.3 L578.1 83.2 M573.8 83.3 L576.3 79.9 M604.3 78.3 L594.3 81.3 M594.3 81.3 L598.5 82.0 M594.3 81.3 L597.5 78.4 M625.3 78.3 L614.3 77.3 M614.3 77.3 L618.0 79.6 M614.3 77.3 L618.3 75.8 M646.3 78.3 L632.3 79.3 M632.3 79.3 L636.3 81.0 M632.3 79.3 L636.0 77.2 M667.3 78.3 L654.3 85.3 M654.3 85.3 L658.6 85.2 M654.3 85.3 L656.8 81.9 M310.3 97.2 L308.3 99.2 M308.3 99.2 L311.5 98.1 M308.3 99.2 L309.4 96.0 M331.3 97.2 L326.3 105.2 M326.3 105.2 L329.9 102.9 M326.3 105.2 L326.7 100.9 M352.3 97.2 L338.3 112.2 M338.3 112.2 L342.3 110.7 M338.3 112.2 L339.6 108.1 M373.3 97.2 L360.3 112.2 M360.3 112.2 L364.3 110.5 M360.3 112.2 L361.4 108.0 M394.3 97.2 L384.3 108.7 M384.3 108.7 L388.3 107.0 M384.3 108.7 L385.4 104.5 M415.3 97.2 L405.8 105.2 M405.8 105.2 L410.0 104.2 M405.8 105.2 L407.5 101.3 M436.3 97.2 L431.3 101.2 M431.3 101.2 L435.5 100.3 M431.3 101.2 L433.1 97.3 M457.3 97.2 L453.3 100.2 M453.3 100.2 L457.5 99.4 M453.3 100.2 L455.3 96.4 M478.3 97.2 L475.8 104.7 M475.8 104.7 L478.8 101.6 M475.8 104.7 L475.2 100.4 M499.3 97.2 L494.8 101.2 M494.8 101.2 L498.9 100.0 M494.8 101.2 L496.4 97.2 M520.3 97.2 L514.3 101.2 M514.3 101.2 L518.6 100.6 M514.3 101.2 L516.5 97.5 M541.3 97.2 L535.8 100.2 M535.8 100.2 L540.1 100.0 M535.8 100.2 L538.3 96.7 M562.3 97.2 L555.3 95.2 M555.3 95.2 L558.5 98.1 M555.3 95.2 L559.5 94.4 M583.3 97.2 L572.3 92.2 M572.3 92.2 L575.0 95.5 M572.3 92.2 L576.6 92.1 M604.3 97.2 L591.3 94.2 M591.3 94.2 L594.6 96.9 M591.3 94.2 L595.5 93.2 M625.3 97.2 L608.8 95.2 M608.8 95.2 L612.4 97.5 M608.8 95.2 L612.9 93.8 M646.3 97.2 L629.3 100.2 M629.3 100.2 L633.4 101.4 M629.3 100.2 L632.8 97.7 M667.3 97.2 L658.8 105.2 M658.8 105.2 L662.9 103.9 M658.8 105.2 L660.3 101.2 M310.3 116.1 L309.3 118.1 M309.3 118.1 L312.0 116.0 M309.3 118.1 L309.3 114.7 M331.3 116.1 L317.3 130.6 M317.3 130.6 L321.3 129.1 M317.3 130.6 L318.6 126.5 M352.3 116.1 L337.3 129.6 M337.3 129.6 L341.4 128.4 M337.3 129.6 L338.9 125.6 M373.3 116.1 L364.3 127.1 M364.3 127.1 L368.2 125.3 M364.3 127.1 L365.3 122.9 M394.3 116.1 L386.3 124.1 M386.3 124.1 L390.4 122.7 M386.3 124.1 L387.7 120.0 M415.3 116.1 L414.3 122.6 M414.3 122.6 L416.8 119.0 M414.3 122.6 L413.0 118.4 M436.3 116.1 L437.3 124.6 M437.3 124.6 L438.7 120.5 M437.3 124.6 L435.0 120.9 M457.3 116.1 L456.3 128.1 M456.3 128.1 L458.5 124.4 M456.3 128.1 L454.7 124.0 M478.3 116.1 L474.3 129.1 M474.3 129.1 L477.2 125.9 M474.3 129.1 L473.6 124.8 M499.3 116.1 L499.8 118.6 M499.8 118.6 L500.7 115.3 M499.8 118.6 L497.7 115.8 M520.3 116.1 L520.3 113.6 M520.3 113.6 L518.8 116.6 M520.3 113.6 L521.8 116.6 M541.3 116.1 L537.3 115.6 M537.3 115.6 L540.9 117.9 M537.3 115.6 L541.4 114.2 M562.3 116.1 L550.3 112.6 M550.3 112.6 L553.5 115.4 M550.3 112.6 L554.5 111.8 M583.3 116.1 L570.3 112.1 M570.3 112.1 L573.4 115.0 M570.3 112.1 L574.5 111.4 M604.3 116.1 L588.8 112.6 M588.8 112.6 L592.2 115.2 M588.8 112.6 L593.0 111.6 M625.3 116.1 L613.8 115.6 M613.8 115.6 L617.6 117.6 M613.8 115.6 L617.7 113.8 M646.3 116.1 L640.3 116.1 M640.3 116.1 L644.2 117.9 M640.3 116.1 L644.2 114.2 M667.3 116.1 L665.8 117.6 M665.8 117.6 L669.0 116.4 M665.8 117.6 L666.9 114.3 M310.3 134.9 L313.3 137.9 M313.3 137.9 L311.9 133.8 M313.3 137.9 L309.2 136.5 M331.3 134.9 L315.3 149.9 M315.3 149.9 L319.4 148.6 M315.3 149.9 L316.8 145.9 M352.3 134.9 L340.3 142.9 M340.3 142.9 L344.6 142.3 M340.3 142.9 L342.5 139.2 M373.3 134.9 L369.3 140.9 M369.3 140.9 L373.0 138.7 M369.3 140.9 L369.9 136.6 M394.3 134.9 L391.3 140.9 M391.3 140.9 L394.7 138.3 M391.3 140.9 L391.3 136.6 M415.3 134.9 L414.3 139.9 M414.3 139.9 L416.9 136.5 M414.3 139.9 L413.2 135.7 M436.3 134.9 L436.3 140.4 M436.3 140.4 L438.2 136.5 M436.3 140.4 L434.4 136.5 M457.3 134.9 L454.3 142.9 M454.3 142.9 L457.4 139.9 M454.3 142.9 L453.9 138.6 M478.3 134.9 L478.3 139.4 M478.3 139.4 L480.2 135.5 M478.3 139.4 L476.4 135.5 M499.3 134.9 L489.3 133.4 M489.3 133.4 L492.8 135.8 M489.3 133.4 L493.4 132.1 M520.3 134.9 L508.8 131.9 M508.8 131.9 L512.1 134.7 M508.8 131.9 L513.0 131.1 M541.3 134.9 L527.3 137.4 M527.3 137.4 L531.4 138.6 M527.3 137.4 L530.8 134.9 M562.3 134.9 L551.3 132.9 M551.3 132.9 L554.8 135.4 M551.3 132.9 L555.4 131.7 M583.3 134.9 L573.8 134.9 M573.8 134.9 L577.7 136.8 M573.8 134.9 L577.7 133.0 M604.3 134.9 L595.3 133.9 M595.3 133.9 L598.9 136.2 M595.3 133.9 L599.3 132.5 M625.3 134.9 L617.3 130.9 M617.3 130.9 L619.9 134.3 M617.3 130.9 L621.6 130.9 M646.3 134.9 L644.8 131.9 M644.8 131.9 L644.8 135.3 M644.8 131.9 L647.5 134.0 M667.3 134.9 L665.3 134.4 M665.3 134.4 L667.9 136.6 M665.3 134.4 L668.6 133.7 M310.3 153.8 L301.3 165.8 M301.3 165.8 L305.1 163.8 M301.3 165.8 L302.1 161.5 M331.3 153.8 L316.3 164.8 M316.3 164.8 L320.5 164.0 M316.3 164.8 L318.3 160.9 M352.3 153.8 L344.3 159.8 M344.3 159.8 L348.5 158.9 M344.3 159.8 L346.3 155.9 M373.3 153.8 L372.3 163.2 M372.3 163.2 L374.6 159.6 M372.3 163.2 L370.8 159.2 M394.3 153.8 L392.3 162.8 M392.3 162.8 L395.0 159.4 M392.3 162.8 L391.3 158.6 M415.3 153.8 L411.3 161.8 M411.3 161.8 L414.7 159.1 M411.3 161.8 L411.3 157.5 M436.3 153.8 L432.3 158.2 M432.3 158.2 L436.3 156.6 M432.3 158.2 L433.5 154.1 M457.3 153.8 L454.3 156.2 M454.3 156.2 L457.6 155.4 M454.3 156.2 L455.7 153.1 M478.3 153.8 L472.3 153.8 M472.3 153.8 L476.2 155.6 M472.3 153.8 L476.2 151.9 M499.3 153.8 L491.3 149.2 M491.3 149.2 L493.7 152.8 M491.3 149.2 L495.6 149.5 M520.3 153.8 L507.3 148.2 M507.3 148.2 L510.1 151.5 M507.3 148.2 L511.6 148.0 M541.3 153.8 L532.3 146.2 M532.3 146.2 L534.1 150.2 M532.3 146.2 L536.5 147.3 M562.3 153.8 L555.3 146.2 M555.3 146.2 L556.6 150.4 M555.3 146.2 L559.3 147.8 M583.3 153.8 L580.3 149.8 M580.3 149.8 L581.1 154.0 M580.3 149.8 L584.1 151.7 M604.3 153.8 L602.3 151.2 M602.3 151.2 L603.0 154.6 M602.3 151.2 L605.4 152.7 M625.3 153.8 L621.3 141.8 M621.3 141.8 L620.7 146.0 M621.3 141.8 L624.3 144.8 M646.3 153.8 L645.3 138.8 M645.3 138.8 L643.7 142.7 M645.3 138.8 L647.4 142.5 M667.3 153.8 L665.3 144.8 M665.3 144.8 L664.3 148.9 M665.3 144.8 L668.0 148.1 M310.3 172.6 L298.8 192.6 M298.8 192.6 L302.4 190.2 M298.8 192.6 L299.1 188.3 M331.3 172.6 L321.3 180.1 M321.3 180.1 L325.5 179.3 M321.3 180.1 L323.3 176.3 M352.3 172.6 L343.3 178.1 M343.3 178.1 L347.6 177.7 M343.3 178.1 L345.6 174.5 M373.3 172.6 L365.3 182.6 M365.3 182.6 L369.2 180.8 M365.3 182.6 L366.2 178.4 M394.3 172.6 L388.3 181.6 M388.3 181.6 L392.0 179.4 M388.3 181.6 L388.9 177.3 M415.3 172.6 L411.3 181.6 M411.3 181.6 L414.6 178.8 M411.3 181.6 L411.1 177.3 M436.3 172.6 L434.3 177.1 M434.3 177.1 L437.6 174.3 M434.3 177.1 L434.1 172.8 M457.3 172.6 L453.3 175.1 M453.3 175.1 L457.6 174.7 M453.3 175.1 L455.6 171.5 M478.3 172.6 L470.3 170.6 M470.3 170.6 L473.6 173.4 M470.3 170.6 L474.5 169.7 M499.3 172.6 L491.3 167.1 M491.3 167.1 L493.4 170.8 M491.3 167.1 L495.6 167.7 M520.3 172.6 L513.3 167.1 M513.3 167.1 L515.2 171.0 M513.3 167.1 L517.5 168.0 M541.3 172.6 L537.3 165.1 M537.3 165.1 L537.5 169.4 M537.3 165.1 L540.8 167.6 M562.3 172.6 L562.3 165.6 M562.3 165.6 L560.4 169.5 M562.3 165.6 L564.2 169.5 M583.3 172.6 L585.3 165.1 M585.3 165.1 L582.5 168.3 M585.3 165.1 L586.1 169.3 M604.3 172.6 L602.3 163.6 M602.3 163.6 L601.3 167.8 M602.3 163.6 L605.0 167.0 M625.3 172.6 L622.3 160.1 M622.3 160.1 L621.4 164.3 M622.3 160.1 L625.0 163.4 M646.3 172.6 L638.3 156.6 M638.3 156.6 L638.3 160.9 M638.3 156.6 L641.7 159.2 M667.3 172.6 L657.3 154.6 M657.3 154.6 L657.5 158.9 M657.3 154.6 L660.8 157.1 M310.3 191.5 L300.3 215.0 M300.3 215.0 L303.5 212.1 M300.3 215.0 L300.1 210.7 M331.3 191.5 L320.3 195.0 M320.3 195.0 L324.6 195.6 M320.3 195.0 L323.4 192.0 M352.3 191.5 L339.3 202.0 M339.3 202.0 L343.5 201.0 M339.3 202.0 L341.1 198.1 M373.3 191.5 L360.8 202.5 M360.8 202.5 L364.9 201.3 M360.8 202.5 L362.5 198.5 M394.3 191.5 L382.3 199.5 M382.3 199.5 L386.6 198.9 M382.3 199.5 L384.5 195.7 M415.3 191.5 L403.3 201.5 M403.3 201.5 L407.5 200.4 M403.3 201.5 L405.1 197.5 M436.3 191.5 L426.3 197.5 M426.3 197.5 L430.6 197.1 M426.3 197.5 L428.6 193.8 M457.3 191.5 L444.3 191.5 M444.3 191.5 L448.2 193.3 M444.3 191.5 L448.2 189.6 M478.3 191.5 L467.8 190.5 M467.8 190.5 L471.5 192.7 M467.8 190.5 L471.8 188.9 M499.3 191.5 L489.8 189.0 M489.8 189.0 L493.1 191.8 M489.8 189.0 L494.0 188.1 M520.3 191.5 L511.3 187.5 M511.3 187.5 L514.1 190.7 M511.3 187.5 L515.6 187.3 M541.3 191.5 L535.3 183.5 M535.3 183.5 L536.1 187.7 M535.3 183.5 L539.1 185.4 M562.3 191.5 L562.3 180.5 M562.3 180.5 L560.4 184.3 M562.3 180.5 L564.2 184.3 M583.3 191.5 L583.3 180.5 M583.3 180.5 L581.4 184.3 M583.3 180.5 L585.2 184.3 M604.3 191.5 L602.3 180.5 M602.3 180.5 L601.1 184.6 M602.3 180.5 L604.8 183.9 M625.3 191.5 L627.3 181.5 M627.3 181.5 L624.7 184.9 M627.3 181.5 L628.4 185.6 M646.3 191.5 L645.3 179.5 M645.3 179.5 L643.7 183.5 M645.3 179.5 L647.5 183.1 M667.3 191.5 L662.3 181.5 M662.3 181.5 L662.3 185.7 M662.3 181.5 L665.7 184.1 M289.3 210.3 L282.3 228.8 M282.3 228.8 L285.4 225.9 M282.3 228.8 L281.9 224.5 M310.3 210.3 L296.3 226.3 M296.3 226.3 L300.3 224.6 M296.3 226.3 L297.4 222.2 M331.3 210.3 L316.3 218.8 M316.3 218.8 L320.6 218.5 M316.3 218.8 L318.7 215.3 M352.3 210.3 L335.8 220.3 M335.8 220.3 L340.1 219.9 M335.8 220.3 L338.1 216.7 M373.3 210.3 L362.3 218.3 M362.3 218.3 L366.5 217.6 M362.3 218.3 L364.3 214.5 M394.3 210.3 L380.3 215.3 M380.3 215.3 L384.6 215.8 M380.3 215.3 L383.3 212.2 M415.3 210.3 L398.3 218.3 M398.3 218.3 L402.6 218.4 M398.3 218.3 L401.0 214.9 M436.3 210.3 L424.3 217.3 M424.3 217.3 L428.6 217.0 M424.3 217.3 L426.7 213.7 M457.3 210.3 L444.3 210.3 M444.3 210.3 L448.2 212.2 M444.3 210.3 L448.2 208.4 M478.3 210.3 L463.3 209.3 M463.3 209.3 L467.0 211.4 M463.3 209.3 L467.3 207.7 M499.3 210.3 L484.3 211.3 M484.3 211.3 L488.3 212.9 M484.3 211.3 L488.0 209.2 M520.3 210.3 L516.3 203.8 M516.3 203.8 L516.7 208.1 M516.3 203.8 L519.9 206.1 M541.3 210.3 L538.3 198.3 M538.3 198.3 L537.4 202.5 M538.3 198.3 L541.1 201.6 M562.3 210.3 L559.3 199.3 M559.3 199.3 L558.5 203.5 M559.3 199.3 L562.1 202.5 M583.3 210.3 L578.8 199.3 M578.8 199.3 L578.5 203.6 M578.8 199.3 L582.0 202.2 M604.3 210.3 L602.3 201.3 M602.3 201.3 L601.3 205.5 M602.3 201.3 L605.0 204.7 M625.3 210.3 L626.3 202.3 M626.3 202.3 L624.0 205.9 M626.3 202.3 L627.7 206.4 M646.3 210.3 L650.3 199.3 M650.3 199.3 L647.2 202.3 M650.3 199.3 L650.8 203.6 M667.3 210.3 L668.8 199.3 M668.8 199.3 L666.4 202.9 M668.8 199.3 L670.1 203.4 M205.3 229.2 L226.3 247.2 M226.3 247.2 L224.6 243.2 M226.3 247.2 L222.1 246.1 M226.3 229.2 L261.3 230.7 M261.3 230.7 L257.5 228.6 M261.3 230.7 L257.4 232.4 M268.3 229.2 L261.3 230.2 M261.3 230.2 L265.4 231.5 M261.3 230.2 L264.9 227.7 M289.3 229.2 L266.3 261.1 M266.3 261.1 L270.1 259.1 M266.3 261.1 L267.0 256.9 M310.3 229.2 L295.3 235.2 M295.3 235.2 L299.6 235.5 M295.3 235.2 L298.2 232.0 M331.3 229.2 L319.3 234.2 M319.3 234.2 L323.6 234.4 M319.3 234.2 L322.1 230.9 M352.3 229.2 L339.3 238.2 M339.3 238.2 L343.6 237.5 M339.3 238.2 L341.4 234.4 M373.3 229.2 L363.3 236.2 M363.3 236.2 L367.5 235.5 M363.3 236.2 L365.4 232.4 M394.3 229.2 L385.3 231.2 M385.3 231.2 L389.5 232.2 M385.3 231.2 L388.7 228.5 M415.3 229.2 L406.3 229.2 M406.3 229.2 L410.2 231.0 M406.3 229.2 L410.2 227.3 M436.3 229.2 L428.3 229.2 M428.3 229.2 L432.2 231.0 M428.3 229.2 L432.2 227.3 M457.3 229.2 L447.3 230.2 M447.3 230.2 L451.3 231.6 M447.3 230.2 L451.0 227.9 M478.3 229.2 L462.3 230.2 M462.3 230.2 L466.3 231.8 M462.3 230.2 L466.0 228.0 M499.3 229.2 L487.3 223.7 M487.3 223.7 L490.0 227.0 M487.3 223.7 L491.6 223.5 M520.3 229.2 L516.3 222.2 M516.3 222.2 L516.6 226.4 M516.3 222.2 L519.9 224.6 M541.3 229.2 L536.3 216.2 M536.3 216.2 L535.9 220.4 M536.3 216.2 L539.4 219.1 M562.3 229.2 L558.8 221.2 M558.8 221.2 L558.6 225.4 M558.8 221.2 L562.1 223.9 M583.3 229.2 L580.3 222.2 M580.3 222.2 L580.1 226.4 M580.3 222.2 L583.6 225.0 M604.3 229.2 L601.3 222.2 M601.3 222.2 L601.1 226.4 M601.3 222.2 L604.6 225.0 M625.3 229.2 L627.3 217.2 M627.3 217.2 L624.8 220.7 M627.3 217.2 L628.5 221.3 M646.3 229.2 L650.3 210.2 M650.3 210.2 L647.7 213.5 M650.3 210.2 L651.3 214.3 M667.3 229.2 L668.3 212.2 M668.3 212.2 L666.2 215.9 M668.3 212.2 L670.0 216.1 M205.3 248.0 L201.3 259.0 M201.3 259.0 L204.4 256.0 M201.3 259.0 L200.8 254.7 M247.3 248.0 L219.3 254.0 M219.3 254.0 L223.5 255.0 M219.3 254.0 L222.7 251.3 M268.3 248.0 L236.3 274.0 M236.3 274.0 L240.5 273.0 M236.3 274.0 L238.1 270.1 M289.3 248.0 L277.3 261.0 M277.3 261.0 L281.3 259.4 M277.3 261.0 L278.5 256.9 M310.3 248.0 L293.8 257.0 M293.8 257.0 L298.1 256.8 M293.8 257.0 L296.3 253.5 M331.3 248.0 L318.3 255.0 M318.3 255.0 L322.6 254.8 M318.3 255.0 L320.8 251.5 M352.3 248.0 L339.3 258.0 M339.3 258.0 L343.5 257.1 M339.3 258.0 L341.2 254.1 M373.3 248.0 L362.3 260.0 M362.3 260.0 L366.3 258.4 M362.3 260.0 L363.5 255.9 M394.3 248.0 L389.3 260.0 M389.3 260.0 L392.5 257.2 M389.3 260.0 L389.0 255.7 M415.3 248.0 L410.8 260.5 M410.8 260.5 L413.9 257.5 M410.8 260.5 L410.3 256.2 M436.3 248.0 L430.8 259.5 M430.8 259.5 L434.2 256.8 M430.8 259.5 L430.8 255.2 M457.3 248.0 L450.8 255.5 M450.8 255.5 L454.8 253.8 M450.8 255.5 L451.9 251.3 M478.3 248.0 L469.3 249.0 M469.3 249.0 L473.3 250.4 M469.3 249.0 L472.9 246.7 M499.3 248.0 L486.3 243.0 M486.3 243.0 L489.2 246.1 M486.3 243.0 L490.6 242.6 M520.3 248.0 L515.3 240.5 M515.3 240.5 L515.9 244.8 M515.3 240.5 L519.0 242.7 M541.3 248.0 L538.8 238.0 M538.8 238.0 L537.9 242.2 M538.8 238.0 L541.6 241.3 M562.3 248.0 L558.8 240.5 M558.8 240.5 L558.7 244.8 M558.8 240.5 L562.1 243.2 M583.3 248.0 L581.3 239.5 M581.3 239.5 L580.4 243.7 M581.3 239.5 L584.0 242.8 M604.3 248.0 L603.3 238.0 M603.3 238.0 L601.8 242.0 M603.3 238.0 L605.6 241.7 M625.3 248.0 L625.3 231.0 M625.3 231.0 L623.4 234.9 M625.3 231.0 L627.2 234.9 M646.3 248.0 L642.3 228.0 M642.3 228.0 L641.2 232.2 M642.3 228.0 L644.9 231.4 M667.3 248.0 L666.3 232.0 M666.3 232.0 L664.7 236.0 M666.3 232.0 L668.4 235.7 M205.3 266.9 L196.3 292.9 M196.3 292.9 L199.3 289.8 M196.3 292.9 L195.8 288.6 M226.3 266.9 L208.8 279.9 M208.8 279.9 L213.0 279.1 M208.8 279.9 L210.8 276.0 M247.3 266.9 L222.3 280.9 M222.3 280.9 L226.6 280.6 M222.3 280.9 L224.8 277.3 M268.3 266.9 L250.3 281.4 M250.3 281.4 L254.5 280.4 M250.3 281.4 L252.1 277.5 M289.3 266.9 L273.8 277.9 M273.8 277.9 L278.0 277.2 M273.8 277.9 L275.9 274.1 M310.3 266.9 L292.3 277.9 M292.3 277.9 L296.6 277.4 M292.3 277.9 L294.6 274.2 M331.3 266.9 L318.3 277.9 M318.3 277.9 L322.5 276.8 M318.3 277.9 L320.0 273.9 M352.3 266.9 L344.3 276.9 M344.3 276.9 L348.2 275.0 M344.3 276.9 L345.2 272.7 M373.3 266.9 L367.3 281.4 M367.3 281.4 L370.5 278.5 M367.3 281.4 L367.0 277.1 M394.3 266.9 L385.8 275.9 M385.8 275.9 L389.8 274.3 M385.8 275.9 L387.1 271.7 M415.3 266.9 L405.8 277.9 M405.8 277.9 L409.8 276.2 M405.8 277.9 L406.9 273.7 M436.3 266.9 L428.3 276.9 M428.3 276.9 L432.2 275.0 M428.3 276.9 L429.2 272.7 M457.3 266.9 L449.3 272.9 M449.3 272.9 L453.5 272.0 M449.3 272.9 L451.3 269.0 M478.3 266.9 L470.8 268.9 M470.8 268.9 L475.0 269.7 M470.8 268.9 L474.0 266.0 M499.3 266.9 L494.3 259.9 M494.3 259.9 L495.0 264.1 M494.3 259.9 L498.1 261.9 M520.3 266.9 L517.3 259.9 M517.3 259.9 L517.1 264.1 M517.3 259.9 L520.6 262.7 M541.3 266.9 L539.3 259.9 M539.3 259.9 L538.5 264.1 M539.3 259.9 L542.2 263.0 M562.3 266.9 L556.3 259.9 M556.3 259.9 L557.4 264.0 M556.3 259.9 L560.2 261.6 M583.3 266.9 L577.3 256.4 M577.3 256.4 L577.6 260.6 M577.3 256.4 L580.9 258.8 M604.3 266.9 L602.3 253.9 M602.3 253.9 L601.0 258.0 M602.3 253.9 L604.8 257.4 M625.3 266.9 L618.8 248.9 M618.8 248.9 L618.3 253.1 M618.8 248.9 L621.9 251.8 M646.3 266.9 L637.3 248.9 M637.3 248.9 L637.3 253.1 M637.3 248.9 L640.7 251.5 M667.3 266.9 L660.3 252.9 M660.3 252.9 L660.3 257.1 M660.3 252.9 L663.7 255.5 M184.3 285.7 L165.3 312.7 M165.3 312.7 L169.1 310.6 M165.3 312.7 L166.0 308.5 M205.3 285.7 L181.3 311.7 M181.3 311.7 L185.3 310.1 M181.3 311.7 L182.5 307.6 M226.3 285.7 L205.3 303.7 M205.3 303.7 L209.5 302.6 M205.3 303.7 L207.0 299.8 M247.3 285.7 L226.3 299.7 M226.3 299.7 L230.6 299.1 M226.3 299.7 L228.5 296.0 M268.3 285.7 L245.3 299.7 M245.3 299.7 L249.6 299.3 M245.3 299.7 L247.6 296.1 M289.3 285.7 L268.8 297.7 M268.8 297.7 L273.1 297.4 M268.8 297.7 L271.2 294.1 M310.3 285.7 L296.3 293.7 M296.3 293.7 L300.6 293.4 M296.3 293.7 L298.7 290.1 M331.3 285.7 L323.3 295.7 M323.3 295.7 L327.2 293.9 M323.3 295.7 L324.2 291.5 M352.3 285.7 L344.3 296.2 M344.3 296.2 L348.1 294.3 M344.3 296.2 L345.1 292.0 M373.3 285.7 L365.3 301.2 M365.3 301.2 L368.7 298.6 M365.3 301.2 L365.4 296.9 M394.3 285.7 L386.3 294.7 M386.3 294.7 L390.3 293.1 M386.3 294.7 L387.5 290.6 M415.3 285.7 L404.3 293.7 M404.3 293.7 L408.5 293.0 M404.3 293.7 L406.3 289.9 M436.3 285.7 L426.3 290.7 M426.3 290.7 L430.6 290.7 M426.3 290.7 L428.9 287.3 M457.3 285.7 L450.8 291.2 M450.8 291.2 L455.0 290.1 M450.8 291.2 L452.5 287.3 M478.3 285.7 L472.8 288.7 M472.8 288.7 L477.1 288.5 M472.8 288.7 L475.3 285.2 M499.3 285.7 L494.3 284.7 M494.3 284.7 L497.7 287.3 M494.3 284.7 L498.5 283.6 M520.3 285.7 L514.3 284.7 M514.3 284.7 L517.8 287.2 M514.3 284.7 L518.4 283.5 M541.3 285.7 L538.3 277.7 M538.3 277.7 L537.9 282.0 M538.3 277.7 L541.4 280.7 M562.3 285.7 L556.3 277.7 M556.3 277.7 L557.1 281.9 M556.3 277.7 L560.1 279.7 M583.3 285.7 L576.3 273.7 M576.3 273.7 L576.6 278.0 M576.3 273.7 L579.9 276.1 M604.3 285.7 L603.3 274.7 M603.3 274.7 L601.8 278.7 M603.3 274.7 L605.5 278.4 M625.3 285.7 L618.3 272.7 M618.3 272.7 L618.5 277.0 M618.3 272.7 L621.8 275.2 M646.3 285.7 L632.3 273.7 M632.3 273.7 L634.0 277.6 M632.3 273.7 L636.5 274.8 M667.3 285.7 L652.3 278.7 M652.3 278.7 L655.0 282.0 M652.3 278.7 L656.6 278.6 M163.3 304.6 L147.3 325.1 M147.3 325.1 L151.2 323.2 M147.3 325.1 L148.2 320.8 M184.3 304.6 L167.3 327.6 M167.3 327.6 L171.1 325.6 M167.3 327.6 L168.1 323.3 M205.3 304.6 L185.3 324.6 M185.3 324.6 L189.4 323.2 M185.3 324.6 L186.7 320.5 M226.3 304.6 L209.3 318.6 M209.3 318.6 L213.5 317.5 M209.3 318.6 L211.1 314.6 M247.3 304.6 L231.3 317.6 M231.3 317.6 L235.5 316.6 M231.3 317.6 L233.1 313.6 M268.3 304.6 L253.8 314.6 M253.8 314.6 L258.1 313.9 M253.8 314.6 L255.9 310.8 M289.3 304.6 L280.3 314.6 M280.3 314.6 L284.3 312.9 M280.3 314.6 L281.5 310.4 M310.3 304.6 L298.8 309.6 M298.8 309.6 L303.1 309.7 M298.8 309.6 L301.6 306.3 M331.3 304.6 L325.3 311.6 M325.3 311.6 L329.2 309.8 M325.3 311.6 L326.4 307.4 M352.3 304.6 L346.3 315.1 M346.3 315.1 L349.9 312.6 M346.3 315.1 L346.6 310.8 M373.3 304.6 L366.3 315.1 M366.3 315.1 L370.0 312.9 M366.3 315.1 L366.9 310.8 M394.3 304.6 L384.3 316.6 M384.3 316.6 L388.2 314.8 M384.3 316.6 L385.3 312.4 M415.3 304.6 L404.3 309.6 M404.3 309.6 L408.6 309.7 M404.3 309.6 L407.0 306.2 M436.3 304.6 L420.8 307.1 M420.8 307.1 L424.9 308.3 M420.8 307.1 L424.3 304.6 M457.3 304.6 L444.3 308.6 M444.3 308.6 L448.5 309.2 M444.3 308.6 L447.4 305.6 M478.3 304.6 L467.3 308.6 M467.3 308.6 L471.6 309.0 M467.3 308.6 L470.3 305.5 M499.3 304.6 L491.3 303.6 M491.3 303.6 L494.9 305.9 M491.3 303.6 L495.4 302.2 M520.3 304.6 L514.3 302.1 M514.3 302.1 L517.1 305.3 M514.3 302.1 L518.6 301.8 M541.3 304.6 L538.8 299.6 M538.8 299.6 L538.8 303.8 M538.8 299.6 L542.2 302.2 M562.3 304.6 L557.3 297.1 M557.3 297.1 L557.9 301.3 M557.3 297.1 L561.0 299.2 M583.3 304.6 L578.8 292.6 M578.8 292.6 L578.4 296.8 M578.8 292.6 L581.9 295.5 M604.3 304.6 L603.8 300.6 M603.8 300.6 L602.4 304.6 M603.8 300.6 L606.1 304.2 M625.3 304.6 L620.3 300.6 M620.3 300.6 L622.1 304.4 M620.3 300.6 L624.5 301.5 M646.3 304.6 L634.3 298.6 M634.3 298.6 L636.9 302.0 M634.3 298.6 L638.6 298.6 M667.3 304.6 L652.3 298.6 M652.3 298.6 L655.2 301.7 M652.3 298.6 L656.6 298.2 M163.3 323.4 L149.3 355.0 M149.3 355.0 L152.6 352.2 M149.3 355.0 L149.1 350.7 M184.3 323.4 L171.7 349.4 M171.7 349.4 L175.1 346.7 M171.7 349.4 L171.7 345.1 M205.3 323.4 L193.8 337.4 M193.8 337.4 L197.7 335.6 M193.8 337.4 L194.8 333.2 M226.3 323.4 L217.3 336.4 M217.3 336.4 L221.0 334.3 M217.3 336.4 L218.0 332.1 M247.3 323.4 L236.3 333.4 M236.3 333.4 L240.4 332.2 M236.3 333.4 L237.9 329.4 M268.3 323.4 L261.3 332.9 M261.3 332.9 L265.1 330.9 M261.3 332.9 L262.1 328.7 M289.3 323.4 L282.3 329.4 M282.3 329.4 L286.5 328.3 M282.3 329.4 L284.0 325.5 M310.3 323.4 L302.3 324.9 M302.3 324.9 L306.4 326.0 M302.3 324.9 L305.8 322.3 M331.3 323.4 L330.3 328.4 M330.3 328.4 L332.9 325.0 M330.3 328.4 L329.2 324.2 M352.3 323.4 L345.8 331.4 M345.8 331.4 L349.7 329.6 M345.8 331.4 L346.8 327.2 M373.3 323.4 L364.3 332.9 M364.3 332.9 L368.3 331.4 M364.3 332.9 L365.6 328.8 M394.3 323.4 L380.8 329.9 M380.8 329.9 L385.1 329.9 M380.8 329.9 L383.5 326.5 M415.3 323.4 L404.3 326.9 M404.3 326.9 L408.6 327.5 M404.3 326.9 L407.4 323.9 M436.3 323.4 L422.3 322.9 M422.3 322.9 L426.1 324.9 M422.3 322.9 L426.2 321.2 M457.3 323.4 L446.3 322.9 M446.3 322.9 L450.1 325.0 M446.3 322.9 L450.2 321.2 M478.3 323.4 L470.8 323.4 M470.8 323.4 L474.7 325.3 M470.8 323.4 L474.7 321.5 M499.3 323.4 L494.3 321.9 M494.3 321.9 L497.5 324.8 M494.3 321.9 L498.5 321.2 M520.3 323.4 L518.8 317.4 M518.8 317.4 L517.9 321.6 M518.8 317.4 L521.6 320.7 M541.3 323.4 L543.3 321.4 M543.3 321.4 L540.1 322.5 M543.3 321.4 L542.2 324.6 M562.3 323.4 L559.3 322.9 M559.3 322.9 L562.1 324.9 M559.3 322.9 L562.6 321.9 M583.3 323.4 L581.3 322.4 M581.3 322.4 L583.4 325.1 M581.3 322.4 L584.7 322.4 M604.3 323.4 L605.3 322.4 M605.3 322.4 L602.1 323.5 M605.3 322.4 L604.2 325.6 M625.3 323.4 L623.8 324.9 M623.8 324.9 L627.0 323.8 M623.8 324.9 L624.9 321.7 M646.3 323.4 L643.3 322.4 M643.3 322.4 L645.7 324.8 M643.3 322.4 L646.7 322.0 M667.3 323.4 L652.3 324.4 M652.3 324.4 L656.3 326.0 M652.3 324.4 L656.0 322.3 M163.3 342.2 L155.3 383.2 M155.3 383.2 L157.9 379.8 M155.3 383.2 L154.2 379.1 M184.3 342.2 L172.7 357.8 M172.7 357.8 L176.5 355.8 M172.7 357.8 L173.5 353.5 M205.3 342.2 L201.3 355.2 M201.3 355.2 L204.2 352.1 M201.3 355.2 L200.6 351.0 M226.3 342.2 L220.3 353.8 M220.3 353.8 L223.8 351.2 M220.3 353.8 L220.4 349.5 M247.3 342.2 L243.8 353.8 M243.8 353.8 L246.7 350.6 M243.8 353.8 L243.1 349.5 M268.3 342.2 L266.3 350.2 M266.3 350.2 L269.1 347.0 M266.3 350.2 L265.4 346.0 M289.3 342.2 L286.3 346.2 M286.3 346.2 L290.1 344.3 M286.3 346.2 L287.1 342.0 M310.3 342.2 L308.3 347.2 M308.3 347.2 L311.5 344.4 M308.3 347.2 L308.0 343.0 M331.3 342.2 L329.3 347.2 M329.3 347.2 L332.5 344.4 M329.3 347.2 L329.0 343.0 M352.3 342.2 L349.3 350.2 M349.3 350.2 L352.4 347.3 M349.3 350.2 L348.9 346.0 M373.3 342.2 L364.3 347.2 M364.3 347.2 L368.6 347.0 M364.3 347.2 L366.8 343.7 M394.3 342.2 L382.3 347.2 M382.3 347.2 L386.6 347.5 M382.3 347.2 L385.1 344.0 M415.3 342.2 L402.3 346.2 M402.3 346.2 L406.5 346.9 M402.3 346.2 L405.4 343.3 M436.3 342.2 L424.3 342.2 M424.3 342.2 L428.2 344.1 M424.3 342.2 L428.2 340.4 M457.3 342.2 L444.3 342.2 M444.3 342.2 L448.2 344.1 M444.3 342.2 L448.2 340.4 M478.3 342.2 L466.3 339.2 M466.3 339.2 L469.6 342.0 M466.3 339.2 L470.5 338.4 M499.3 342.2 L492.3 340.2 M492.3 340.2 L495.5 343.1 M492.3 340.2 L496.5 339.5 M520.3 342.2 L517.3 341.2 M517.3 341.2 L519.7 343.6 M517.3 341.2 L520.7 340.8 M541.3 342.2 L542.3 339.2 M542.3 339.2 L539.9 341.7 M542.3 339.2 L542.7 342.6 M562.3 342.2 L560.3 343.8 M560.3 343.8 L563.6 343.1 M560.3 343.8 L561.9 340.7 M583.3 342.2 L574.3 346.2 M574.3 346.2 L578.6 346.4 M574.3 346.2 L577.1 343.0 M604.3 342.2 L600.3 341.2 M600.3 341.2 L603.6 344.0 M600.3 341.2 L604.5 340.4 M625.3 342.2 L625.3 340.2 M625.3 340.2 L623.8 343.3 M625.3 340.2 L626.8 343.3 M646.3 342.2 L643.8 341.2 M643.8 341.2 L646.1 343.8 M643.8 341.2 L647.2 341.0 M667.3 342.2 L658.3 343.2 M658.3 343.2 L662.3 344.7 M658.3 343.2 L661.9 340.9 M163.3 361.1 L153.3 397.6 M153.3 397.6 L156.1 394.4 M153.3 397.6 L152.5 393.4 M184.3 361.1 L174.3 378.1 M174.3 378.1 L177.9 375.7 M174.3 378.1 L174.6 373.8 M205.3 361.1 L202.3 375.1 M202.3 375.1 L205.0 371.7 M202.3 375.1 L201.3 370.9 M226.3 361.1 L223.3 374.1 M223.3 374.1 L226.0 370.8 M223.3 374.1 L222.3 369.9 M247.3 361.1 L245.3 373.1 M245.3 373.1 L247.8 369.6 M245.3 373.1 L244.1 369.0 M268.3 361.1 L266.3 367.6 M266.3 367.6 L269.2 364.5 M266.3 367.6 L265.6 363.4 M289.3 361.1 L286.3 366.1 M286.3 366.1 L289.9 363.8 M286.3 366.1 L286.7 361.8 M310.3 361.1 L300.3 367.1 M300.3 367.1 L304.6 366.7 M300.3 367.1 L302.6 363.5 M331.3 361.1 L321.3 365.1 M321.3 365.1 L325.6 365.4 M321.3 365.1 L324.2 361.9 M352.3 361.1 L338.3 369.1 M338.3 369.1 L342.6 368.8 M338.3 369.1 L340.7 365.5 M373.3 361.1 L360.3 370.1 M360.3 370.1 L364.6 369.4 M360.3 370.1 L362.4 366.4 M394.3 361.1 L379.3 371.1 M379.3 371.1 L383.6 370.5 M379.3 371.1 L381.5 367.4 M415.3 361.1 L400.3 366.6 M400.3 366.6 L404.6 367.0 M400.3 366.6 L403.3 363.5 M436.3 361.1 L419.3 361.1 M419.3 361.1 L423.2 363.0 M419.3 361.1 L423.2 359.2 M457.3 361.1 L440.8 359.6 M440.8 359.6 L444.5 361.8 M440.8 359.6 L444.8 358.1 M478.3 361.1 L465.3 358.1 M465.3 358.1 L468.6 360.8 M465.3 358.1 L469.5 357.1 M499.3 361.1 L489.3 361.1 M489.3 361.1 L493.2 363.0 M489.3 361.1 L493.2 359.2 M520.3 361.1 L513.3 363.1 M513.3 363.1 L517.5 363.9 M513.3 363.1 L516.5 360.2 M541.3 361.1 L537.3 365.1 M537.3 365.1 L541.4 363.7 M537.3 365.1 L538.7 361.0 M562.3 361.1 L553.8 368.1 M553.8 368.1 L558.0 367.1 M553.8 368.1 L555.6 364.2 M583.3 361.1 L571.3 364.1 M571.3 364.1 L575.5 365.0 M571.3 364.1 L574.6 361.3 M604.3 361.1 L600.3 361.1 M600.3 361.1 L603.4 362.6 M600.3 361.1 L603.4 359.6 M625.3 361.1 L620.3 363.1 M620.3 363.1 L624.6 363.4 M620.3 363.1 L623.2 359.9 M646.3 361.1 L635.3 363.1 M635.3 363.1 L639.4 364.3 M635.3 363.1 L638.8 360.6 M667.3 361.1 L657.3 359.1 M657.3 359.1 L660.7 361.7 M657.3 359.1 L661.5 358.0 M163.3 380.0 L151.3 413.0 M151.3 413.0 L154.4 410.0 M151.3 413.0 L150.8 408.7 M184.3 380.0 L178.3 398.6 M178.3 398.6 L181.3 395.5 M178.3 398.6 L177.7 394.3 M205.3 380.0 L202.3 395.5 M202.3 395.5 L204.9 392.0 M202.3 395.5 L201.2 391.3 M226.3 380.0 L224.3 391.0 M224.3 391.0 L226.8 387.5 M224.3 391.0 L223.1 386.8 M247.3 380.0 L243.8 385.0 M243.8 385.0 L247.6 382.9 M243.8 385.0 L244.5 380.7 M268.3 380.0 L264.3 384.5 M264.3 384.5 L268.3 382.8 M264.3 384.5 L265.5 380.3 M289.3 380.0 L277.3 387.5 M277.3 387.5 L281.6 387.0 M277.3 387.5 L279.6 383.8 M310.3 380.0 L300.3 385.5 M300.3 385.5 L304.6 385.2 M300.3 385.5 L302.8 381.9 M331.3 380.0 L323.3 385.0 M323.3 385.0 L327.6 384.5 M323.3 385.0 L325.6 381.3 M352.3 380.0 L345.8 385.0 M345.8 385.0 L350.0 384.1 M345.8 385.0 L347.7 381.1 M373.3 380.0 L368.3 388.0 M368.3 388.0 L371.9 385.7 M368.3 388.0 L368.7 383.7 M394.3 380.0 L382.3 387.5 M382.3 387.5 L386.6 387.0 M382.3 387.5 L384.6 383.8 M415.3 380.0 L398.3 386.5 M398.3 386.5 L402.6 386.8 M398.3 386.5 L401.2 383.3 M436.3 380.0 L414.3 379.0 M414.3 379.0 L418.1 381.0 M414.3 379.0 L418.2 377.2 M457.3 380.0 L437.3 379.0 M437.3 379.0 L441.1 381.0 M437.3 379.0 L441.3 377.3 M478.3 380.0 L461.3 381.5 M461.3 381.5 L465.3 383.0 M461.3 381.5 L465.0 379.2 M499.3 380.0 L484.3 381.0 M484.3 381.0 L488.3 382.6 M484.3 381.0 L488.0 378.8 M520.3 380.0 L507.3 382.5 M507.3 382.5 L511.5 383.6 M507.3 382.5 L510.7 379.9 M541.3 380.0 L524.3 384.0 M524.3 384.0 L528.5 384.9 M524.3 384.0 L527.6 381.2 M562.3 380.0 L546.3 384.5 M546.3 384.5 L550.5 385.2 M546.3 384.5 L549.5 381.6 M583.3 380.0 L570.3 385.0 M570.3 385.0 L574.6 385.3 M570.3 385.0 L573.2 381.8 M604.3 380.0 L589.3 387.0 M589.3 387.0 L593.6 387.0 M589.3 387.0 L592.0 383.6 M625.3 380.0 L607.3 384.5 M607.3 384.5 L611.5 385.3 M607.3 384.5 L610.6 381.7 M646.3 380.0 L632.3 380.0 M632.3 380.0 L636.2 381.8 M632.3 380.0 L636.2 378.1 M667.3 380.0 L657.3 380.0 M657.3 380.0 L661.2 381.8 M657.3 380.0 L661.2 378.1 M142.3 398.8 L136.7 403.8 M136.7 403.8 L140.8 402.6 M136.7 403.8 L138.3 399.8 M163.3 398.8 L154.3 435.8 M154.3 435.8 L157.0 432.5 M154.3 435.8 L153.4 431.6 M184.3 398.8 L177.9 417.8 M177.9 417.8 L180.9 414.7 M177.9 417.8 L177.3 413.5 M205.3 398.8 L206.3 412.8 M206.3 412.8 L207.9 408.8 M206.3 412.8 L204.1 409.1 M226.3 398.8 L227.3 406.3 M227.3 406.3 L228.7 402.2 M227.3 406.3 L224.9 402.7 M247.3 398.8 L247.3 404.8 M247.3 404.8 L249.2 400.9 M247.3 404.8 L245.4 400.9 M268.3 398.8 L267.3 406.8 M267.3 406.8 L269.6 403.2 M267.3 406.8 L265.9 402.7 M289.3 398.8 L282.3 407.8 M282.3 407.8 L286.2 405.9 M282.3 407.8 L283.2 403.6 M310.3 398.8 L306.3 406.3 M306.3 406.3 L309.8 403.8 M306.3 406.3 L306.5 402.0 M331.3 398.8 L328.3 400.8 M328.3 400.8 L331.7 400.3 M328.3 400.8 L330.0 397.9 M352.3 398.8 L352.3 403.3 M352.3 403.3 L354.2 399.4 M352.3 403.3 L350.4 399.4 M373.3 398.8 L373.3 409.8 M373.3 409.8 L375.2 405.9 M373.3 409.8 L371.4 405.9 M394.3 398.8 L384.3 409.8 M384.3 409.8 L388.3 408.2 M384.3 409.8 L385.5 405.7 M415.3 398.8 L398.3 407.8 M398.3 407.8 L402.6 407.7 M398.3 407.8 L400.8 404.3 M436.3 398.8 L413.3 399.8 M413.3 399.8 L417.2 401.5 M413.3 399.8 L417.1 397.7 M457.3 398.8 L432.3 398.3 M432.3 398.3 L436.1 400.3 M432.3 398.3 L436.2 396.5 M478.3 398.8 L458.3 398.3 M458.3 398.3 L462.1 400.3 M458.3 398.3 L462.2 396.5 M499.3 398.8 L481.3 396.8 M481.3 396.8 L484.9 399.1 M481.3 396.8 L485.3 395.4 M520.3 398.8 L502.3 395.8 M502.3 395.8 L505.8 398.3 M502.3 395.8 L506.4 394.6 M541.3 398.8 L521.3 398.8 M521.3 398.8 L525.2 400.7 M521.3 398.8 L525.2 396.9 M562.3 398.8 L546.3 405.8 M546.3 405.8 L550.6 406.0 M546.3 405.8 L549.1 402.5 M583.3 398.8 L562.3 408.8 M562.3 408.8 L566.6 408.8 M562.3 408.8 L565.0 405.4 M604.3 398.8 L583.8 403.8 M583.8 403.8 L588.0 404.7 M583.8 403.8 L587.1 401.1 M625.3 398.8 L606.3 400.8 M606.3 400.8 L610.3 402.3 M606.3 400.8 L609.9 398.5 M646.3 398.8 L631.3 398.3 M631.3 398.3 L635.1 400.3 M631.3 398.3 L635.2 396.5 M667.3 398.8 L657.3 395.8 M657.3 395.8 L660.5 398.7 M657.3 395.8 L661.5 395.1 M142.3 417.7 L138.3 429.7 M138.3 429.7 L141.3 426.6 M138.3 429.7 L137.7 425.4 M163.3 417.7 L154.3 446.7 M154.3 446.7 L157.2 443.5 M154.3 446.7 L153.6 442.4 M184.3 417.7 L183.3 438.7 M183.3 438.7 L185.4 434.9 M183.3 438.7 L181.6 434.7 M205.3 417.7 L216.3 429.7 M216.3 429.7 L215.1 425.5 M216.3 429.7 L212.3 428.1 M226.3 417.7 L237.3 424.7 M237.3 424.7 L235.1 421.0 M237.3 424.7 L233.0 424.2 M247.3 417.7 L253.8 425.7 M253.8 425.7 L252.8 421.5 M253.8 425.7 L249.9 423.8 M268.3 417.7 L269.3 429.7 M269.3 429.7 L270.9 425.6 M269.3 429.7 L267.1 426.0 M289.3 417.7 L285.3 427.7 M285.3 427.7 L288.5 424.8 M285.3 427.7 L285.0 423.4 M310.3 417.7 L303.3 422.7 M303.3 422.7 L307.5 421.9 M303.3 422.7 L305.3 418.9 M331.3 417.7 L325.8 418.7 M325.8 418.7 L329.9 419.8 M325.8 418.7 L329.3 416.1 M352.3 417.7 L352.3 421.7 M352.3 421.7 L353.8 418.6 M352.3 421.7 L350.8 418.6 M373.3 417.7 L374.3 426.7 M374.3 426.7 L375.7 422.6 M374.3 426.7 L372.0 423.0 M394.3 417.7 L384.3 434.7 M384.3 434.7 L387.9 432.3 M384.3 434.7 L384.6 430.4 M415.3 417.7 L401.3 433.2 M401.3 433.2 L405.3 431.5 M401.3 433.2 L402.5 429.0 M436.3 417.7 L417.3 422.7 M417.3 422.7 L421.5 423.5 M417.3 422.7 L420.6 419.8 M457.3 417.7 L434.3 417.7 M434.3 417.7 L438.2 419.5 M434.3 417.7 L438.2 415.8 M478.3 417.7 L453.3 413.2 M453.3 413.2 L456.8 415.7 M453.3 413.2 L457.4 412.0 M499.3 417.7 L482.3 411.7 M482.3 411.7 L485.3 414.7 M482.3 411.7 L486.6 411.2 M520.3 417.7 L504.3 415.7 M504.3 415.7 L507.9 418.0 M504.3 415.7 L508.4 414.3 M541.3 417.7 L524.3 418.2 M524.3 418.2 L528.2 419.9 M524.3 418.2 L528.1 416.2 M562.3 417.7 L542.3 424.7 M542.3 424.7 L546.6 425.2 M542.3 424.7 L545.3 421.6 M583.3 417.7 L565.3 421.7 M565.3 421.7 L569.5 422.7 M565.3 421.7 L568.7 419.0 M604.3 417.7 L585.3 418.2 M585.3 418.2 L589.2 419.9 M585.3 418.2 L589.1 416.2 M625.3 417.7 L606.3 418.7 M606.3 418.7 L610.3 420.3 M606.3 418.7 L610.1 416.6 M646.3 417.7 L631.3 418.2 M631.3 418.2 L635.2 419.9 M631.3 418.2 L635.1 416.1 M667.3 417.7 L657.3 414.7 M657.3 414.7 L660.5 417.6 M657.3 414.7 L661.5 414.0 M142.3 436.5 L149.8 483.5 M149.8 483.5 L151.1 479.4 M149.8 483.5 L147.3 480.0 M163.3 436.5 L156.3 473.5 M156.3 473.5 L158.9 470.1 M156.3 473.5 L155.2 469.4 M184.3 436.5 L186.3 460.0 M186.3 460.0 L187.9 456.0 M186.3 460.0 L184.1 456.3 M205.3 436.5 L216.3 450.0 M216.3 450.0 L215.3 445.8 M216.3 450.0 L212.4 448.2 M226.3 436.5 L240.3 450.0 M240.3 450.0 L238.8 446.0 M240.3 450.0 L236.2 448.7 M247.3 436.5 L253.8 448.5 M253.8 448.5 L253.6 444.2 M253.8 448.5 L250.3 446.0 M268.3 436.5 L265.3 450.0 M265.3 450.0 L268.0 446.6 M265.3 450.0 L264.3 445.8 M289.3 436.5 L281.3 448.0 M281.3 448.0 L285.1 445.9 M281.3 448.0 L282.0 443.8 M310.3 436.5 L298.8 442.5 M298.8 442.5 L303.1 442.4 M298.8 442.5 L301.4 439.0 M331.3 436.5 L321.3 439.5 M321.3 439.5 L325.5 440.2 M321.3 439.5 L324.5 436.6 M352.3 436.5 L341.3 441.5 M341.3 441.5 L345.6 441.6 M341.3 441.5 L344.0 438.2 M373.3 436.5 L363.3 444.0 M363.3 444.0 L367.5 443.2 M363.3 444.0 L365.3 440.2 M394.3 436.5 L385.8 449.0 M385.8 449.0 L389.5 446.9 M385.8 449.0 L386.4 444.7 M415.3 436.5 L401.3 449.5 M401.3 449.5 L405.4 448.3 M401.3 449.5 L402.8 445.5 M436.3 436.5 L421.3 443.5 M421.3 443.5 L425.6 443.6 M421.3 443.5 L424.0 440.2 M457.3 436.5 L442.3 439.0 M442.3 439.0 L446.4 440.2 M442.3 439.0 L445.8 436.5 M478.3 436.5 L462.3 430.5 M462.3 430.5 L465.3 433.6 M462.3 430.5 L466.6 430.1 M499.3 436.5 L482.3 428.5 M482.3 428.5 L485.0 431.9 M482.3 428.5 L486.6 428.4 M520.3 436.5 L504.3 430.0 M504.3 430.0 L507.2 433.2 M504.3 430.0 L508.6 429.7 M541.3 436.5 L525.3 437.5 M525.3 437.5 L529.3 439.1 M525.3 437.5 L529.0 435.4 M562.3 436.5 L547.3 442.0 M547.3 442.0 L551.6 442.4 M547.3 442.0 L550.3 438.9 M583.3 436.5 L569.3 435.0 M569.3 435.0 L572.9 437.3 M569.3 435.0 L573.3 433.5 M604.3 436.5 L590.3 435.0 M590.3 435.0 L593.9 437.3 M590.3 435.0 L594.3 433.5 M625.3 436.5 L612.3 438.5 M612.3 438.5 L616.4 439.8 M612.3 438.5 L615.8 436.0 M646.3 436.5 L633.3 431.5 M633.3 431.5 L636.2 434.6 M633.3 431.5 L637.6 431.1 M667.3 436.5 L657.3 435.5 M657.3 435.5 L661.0 437.8 M657.3 435.5 L661.3 434.0 M142.3 455.4 L141.3 525.4 M141.3 525.4 L143.2 521.5 M141.3 525.4 L139.5 521.5 M163.3 455.4 L157.3 487.4 M157.3 487.4 L159.9 483.9 M157.3 487.4 L156.2 483.2 M184.3 455.4 L189.3 474.4 M189.3 474.4 L190.1 470.1 M189.3 474.4 L186.5 471.1 M205.3 455.4 L219.3 470.4 M219.3 470.4 L218.0 466.2 M219.3 470.4 L215.3 468.8 M226.3 455.4 L238.8 472.4 M238.8 472.4 L238.0 468.1 M238.8 472.4 L235.0 470.4 M247.3 455.4 L250.3 473.9 M250.3 473.9 L251.5 469.7 M250.3 473.9 L247.8 470.3 M268.3 455.4 L261.3 472.4 M261.3 472.4 L264.5 469.5 M261.3 472.4 L261.0 468.1 M289.3 455.4 L280.3 470.4 M280.3 470.4 L283.9 468.0 M280.3 470.4 L280.7 466.1 M310.3 455.4 L298.3 465.4 M298.3 465.4 L302.5 464.3 M298.3 465.4 L300.1 461.4 M331.3 455.4 L321.3 457.4 M321.3 457.4 L325.5 458.4 M321.3 457.4 L324.7 454.7 M352.3 455.4 L334.3 457.4 M334.3 457.4 L338.3 458.8 M334.3 457.4 L337.9 455.0 M373.3 455.4 L354.3 458.4 M354.3 458.4 L358.4 459.6 M354.3 458.4 L357.8 455.9 M394.3 455.4 L377.3 463.4 M377.3 463.4 L381.6 463.4 M377.3 463.4 L380.0 460.0 M415.3 455.4 L402.3 467.4 M402.3 467.4 L406.4 466.1 M402.3 467.4 L403.9 463.3 M436.3 455.4 L428.3 463.4 M428.3 463.4 L432.4 462.0 M428.3 463.4 L429.7 459.3 M457.3 455.4 L452.3 460.9 M452.3 460.9 L456.3 459.3 M452.3 460.9 L453.5 456.7 M478.3 455.4 L468.3 454.4 M468.3 454.4 L472.0 456.6 M468.3 454.4 L472.3 452.9 M499.3 455.4 L490.3 450.4 M490.3 450.4 L492.8 453.9 M490.3 450.4 L494.6 450.6 M520.3 455.4 L506.3 450.9 M506.3 450.9 L509.4 453.8 M506.3 450.9 L510.6 450.2 M541.3 455.4 L525.3 457.4 M525.3 457.4 L529.4 458.7 M525.3 457.4 L528.9 455.0 M562.3 455.4 L553.8 460.9 M553.8 460.9 L558.1 460.3 M553.8 460.9 L556.0 457.2 M583.3 455.4 L579.3 454.4 M579.3 454.4 L582.6 457.1 M579.3 454.4 L583.5 453.5 M604.3 455.4 L606.3 455.4 M606.3 455.4 L603.2 453.9 M606.3 455.4 L603.2 456.8 M625.3 455.4 L628.3 455.4 M628.3 455.4 L625.2 453.9 M628.3 455.4 L625.2 456.8 M646.3 455.4 L642.3 454.4 M642.3 454.4 L645.6 457.1 M642.3 454.4 L646.5 453.5 M667.3 455.4 L662.3 449.4 M662.3 449.4 L663.3 453.5 M662.3 449.4 L666.2 451.1 M142.3 474.2 L122.3 511.2 M122.3 511.2 L125.8 508.7 M122.3 511.2 L122.5 506.9 M163.3 474.2 L160.3 502.2 M160.3 502.2 L162.6 498.6 M160.3 502.2 L158.8 498.2 M184.3 474.2 L194.3 490.2 M194.3 490.2 L193.9 485.9 M194.3 490.2 L190.7 487.9 M205.3 474.2 L218.3 488.7 M218.3 488.7 L217.1 484.6 M218.3 488.7 L214.3 487.1 M226.3 474.2 L235.3 491.2 M235.3 491.2 L235.2 486.9 M235.3 491.2 L231.8 488.7 M247.3 474.2 L244.3 492.2 M244.3 492.2 L246.8 488.7 M244.3 492.2 L243.1 488.1 M268.3 474.2 L262.3 489.2 M262.3 489.2 L265.5 486.3 M262.3 489.2 L262.0 484.9 M289.3 474.2 L276.3 485.2 M276.3 485.2 L280.5 484.1 M276.3 485.2 L278.0 481.3 M310.3 474.2 L296.3 485.2 M296.3 485.2 L300.5 484.3 M296.3 485.2 L298.2 481.3 M331.3 474.2 L321.3 476.2 M321.3 476.2 L325.5 477.3 M321.3 476.2 L324.7 473.6 M352.3 474.2 L335.8 476.2 M335.8 476.2 L339.9 477.6 M335.8 476.2 L339.4 473.9 M373.3 474.2 L355.8 476.2 M355.8 476.2 L359.9 477.6 M355.8 476.2 L359.4 473.9 M394.3 474.2 L377.3 477.2 M377.3 477.2 L381.4 478.4 M377.3 477.2 L380.8 474.7 M415.3 474.2 L403.3 481.2 M403.3 481.2 L407.6 480.9 M403.3 481.2 L405.7 477.6 M436.3 474.2 L429.3 481.2 M429.3 481.2 L433.4 479.8 M429.3 481.2 L430.7 477.1 M457.3 474.2 L452.3 482.2 M452.3 482.2 L455.9 479.9 M452.3 482.2 L452.7 477.9 M478.3 474.2 L469.3 481.2 M469.3 481.2 L473.5 480.3 M469.3 481.2 L471.2 477.3 M499.3 474.2 L492.3 475.7 M492.3 475.7 L496.5 476.7 M492.3 475.7 L495.7 473.0 M520.3 474.2 L509.3 474.2 M509.3 474.2 L513.2 476.1 M509.3 474.2 L513.2 472.3 M541.3 474.2 L528.8 477.2 M528.8 477.2 L533.0 478.1 M528.8 477.2 L532.1 474.5 M562.3 474.2 L551.3 480.2 M551.3 480.2 L555.6 480.0 M551.3 480.2 L553.8 476.7 M583.3 474.2 L580.3 475.7 M580.3 475.7 L583.7 475.7 M580.3 475.7 L582.4 473.0 M604.3 474.2 L608.3 474.2 M608.3 474.2 L605.2 472.7 M608.3 474.2 L605.2 475.7 M625.3 474.2 L636.3 474.2 M636.3 474.2 L632.4 472.3 M636.3 474.2 L632.4 476.1 M646.3 474.2 L654.3 475.7 M654.3 475.7 L650.8 473.1 M654.3 475.7 L650.2 476.8 M667.3 474.2 L667.3 471.2 M667.3 471.2 L665.8 474.3 M667.3 471.2 L668.8 474.3 M142.3 493.1 L127.3 519.5 M127.3 519.5 L130.8 517.1 M127.3 519.5 L127.6 515.3 M163.3 493.1 L165.3 509.1 M165.3 509.1 L166.7 505.0 M165.3 509.1 L163.0 505.4 M184.3 493.1 L190.3 504.6 M190.3 504.6 L190.2 500.3 M190.3 504.6 L186.8 502.0 M205.3 493.1 L208.8 504.6 M208.8 504.6 L209.5 500.3 M208.8 504.6 L205.9 501.4 M226.3 493.1 L228.3 507.6 M228.3 507.6 L229.6 503.5 M228.3 507.6 L225.9 504.0 M247.3 493.1 L243.3 508.1 M243.3 508.1 L246.1 504.8 M243.3 508.1 L242.5 503.8 M268.3 493.1 L263.3 505.1 M263.3 505.1 L266.5 502.2 M263.3 505.1 L263.0 500.8 M289.3 493.1 L278.3 500.6 M278.3 500.6 L282.6 499.9 M278.3 500.6 L280.4 496.8 M310.3 493.1 L297.3 499.6 M297.3 499.6 L301.6 499.5 M297.3 499.6 L299.9 496.1 M331.3 493.1 L321.3 497.6 M321.3 497.6 L325.6 497.7 M321.3 497.6 L324.1 494.2 M352.3 493.1 L339.3 499.1 M339.3 499.1 L343.6 499.1 M339.3 499.1 L342.0 495.7 M373.3 493.1 L360.3 499.1 M360.3 499.1 L364.6 499.1 M360.3 499.1 L363.0 495.7 M394.3 493.1 L380.3 499.6 M380.3 499.6 L384.6 499.6 M380.3 499.6 L383.0 496.2 M415.3 493.1 L401.3 501.6 M401.3 501.6 L405.6 501.2 M401.3 501.6 L403.6 497.9 M436.3 493.1 L427.3 505.1 M427.3 505.1 L431.1 503.1 M427.3 505.1 L428.1 500.8 M457.3 493.1 L447.3 506.1 M447.3 506.1 L451.2 504.1 M447.3 506.1 L448.2 501.8 M478.3 493.1 L469.3 504.6 M469.3 504.6 L473.2 502.7 M469.3 504.6 L470.2 500.3 M499.3 493.1 L492.3 503.1 M492.3 503.1 L496.1 501.0 M492.3 503.1 L493.0 498.8 M520.3 493.1 L509.3 502.1 M509.3 502.1 L513.5 501.1 M509.3 502.1 L511.1 498.1 M541.3 493.1 L533.3 502.1 M533.3 502.1 L537.3 500.4 M533.3 502.1 L534.5 497.9 M562.3 493.1 L557.3 499.6 M557.3 499.6 L561.2 497.6 M557.3 499.6 L558.2 495.3 M583.3 493.1 L582.3 499.1 M582.3 499.1 L584.8 495.5 M582.3 499.1 L581.1 494.9 M604.3 493.1 L604.3 498.1 M604.3 498.1 L606.2 494.2 M604.3 498.1 L602.4 494.2 M625.3 493.1 L628.8 495.1 M628.8 495.1 L626.4 491.5 M628.8 495.1 L624.5 494.8 M646.3 493.1 L652.3 497.1 M652.3 497.1 L650.1 493.3 M652.3 497.1 L648.0 496.5 M667.3 493.1 L667.3 496.6 M667.3 496.6 L668.8 493.5 M667.3 496.6 L665.8 493.5 M142.3 511.9 L141.3 524.9 M141.3 524.9 L143.5 521.2 M141.3 524.9 L139.7 520.9 M163.3 511.9 L160.3 519.9 M160.3 519.9 L163.4 516.9 M160.3 519.9 L159.9 515.6 M184.3 511.9 L180.3 520.9 M180.3 520.9 L183.6 518.1 M180.3 520.9 L180.1 516.6 M205.3 511.9 L198.3 523.9 M198.3 523.9 L201.9 521.5 M198.3 523.9 L198.6 519.6 M226.3 511.9 L218.8 525.9 M218.8 525.9 L222.3 523.4 M218.8 525.9 L219.0 521.6 M247.3 511.9 L240.3 524.9 M240.3 524.9 L243.8 522.4 M240.3 524.9 L240.5 520.6 M268.3 511.9 L258.8 522.9 M258.8 522.9 L262.8 521.2 M258.8 522.9 L259.9 518.7 M289.3 511.9 L278.3 520.4 M278.3 520.4 L282.5 519.5 M278.3 520.4 L280.2 516.5 M310.3 511.9 L298.3 517.9 M298.3 517.9 L302.6 517.9 M298.3 517.9 L300.9 514.5 M331.3 511.9 L321.3 516.9 M321.3 516.9 L325.6 516.9 M321.3 516.9 L323.9 513.5 M352.3 511.9 L339.3 519.4 M339.3 519.4 L343.6 519.1 M339.3 519.4 L341.7 515.8 M373.3 511.9 L362.3 519.9 M362.3 519.9 L366.5 519.2 M362.3 519.9 L364.3 516.1 M394.3 511.9 L380.8 518.9 M380.8 518.9 L385.1 518.8 M380.8 518.9 L383.4 515.4 M415.3 511.9 L400.3 518.9 M400.3 518.9 L404.6 519.0 M400.3 518.9 L403.0 515.6 M436.3 511.9 L422.3 522.9 M422.3 522.9 L426.5 522.0 M422.3 522.9 L424.2 519.0 M457.3 511.9 L444.3 523.9 M444.3 523.9 L448.4 522.7 M444.3 523.9 L445.9 519.9 M478.3 511.9 L465.3 524.4 M465.3 524.4 L469.4 523.1 M465.3 524.4 L466.8 520.4 M499.3 511.9 L485.8 523.9 M485.8 523.9 L489.9 522.7 M485.8 523.9 L487.4 519.9 M520.3 511.9 L504.3 521.9 M504.3 521.9 L508.6 521.5 M504.3 521.9 L506.6 518.3 M541.3 511.9 L526.3 521.4 M526.3 521.4 L530.6 520.9 M526.3 521.4 L528.6 517.7 M562.3 511.9 L551.3 519.9 M551.3 519.9 L555.5 519.2 M551.3 519.9 L553.3 516.1 M583.3 511.9 L578.8 521.9 M578.8 521.9 L582.1 519.1 M578.8 521.9 L578.7 517.6 M604.3 511.9 L604.3 522.9 M604.3 522.9 L606.2 519.0 M604.3 522.9 L602.4 519.0 M625.3 511.9 L627.3 518.9 M627.3 518.9 L628.1 514.7 M627.3 518.9 L624.4 515.7 M646.3 511.9 L646.3 516.4 M646.3 516.4 L648.2 512.5 M646.3 516.4 L644.4 512.5 M667.3 511.9 L665.3 510.9 M665.3 510.9 L667.4 513.6 M665.3 510.9 L668.7 510.9 M142.3 530.8 L143.3 536.2 M143.3 536.2 L144.5 532.1 M143.3 536.2 L140.8 532.8 M163.3 530.8 L157.3 537.8 M157.3 537.8 L161.2 536.0 M157.3 537.8 L158.4 533.6 M184.3 530.8 L177.3 539.8 M177.3 539.8 L181.2 537.9 M177.3 539.8 L178.2 535.5 M205.3 530.8 L195.3 541.2 M195.3 541.2 L199.3 539.8 M195.3 541.2 L196.6 537.2 M226.3 530.8 L216.3 543.8 M216.3 543.8 L220.2 541.8 M216.3 543.8 L217.2 539.5 M247.3 530.8 L237.3 542.8 M237.3 542.8 L241.2 541.0 M237.3 542.8 L238.3 538.6 M268.3 530.8 L256.3 539.8 M256.3 539.8 L260.5 538.9 M256.3 539.8 L258.3 535.9 M289.3 530.8 L275.3 537.8 M275.3 537.8 L279.6 537.7 M275.3 537.8 L277.9 534.3 M310.3 530.8 L298.8 534.8 M298.8 534.8 L303.1 535.3 M298.8 534.8 L301.8 531.7 M331.3 530.8 L321.3 532.2 M321.3 532.2 L325.4 533.5 M321.3 532.2 L324.8 529.8 M352.3 530.8 L337.3 537.8 M337.3 537.8 L341.6 537.8 M337.3 537.8 L340.0 534.4 M373.3 530.8 L362.3 536.8 M362.3 536.8 L366.6 536.6 M362.3 536.8 L364.8 533.2 M394.3 530.8 L380.8 535.8 M380.8 535.8 L385.1 536.2 M380.8 535.8 L383.8 532.6 M415.3 530.8 L398.3 535.2 M398.3 535.2 L402.5 536.1 M398.3 535.2 L401.6 532.4 M436.3 530.8 L418.3 535.2 M418.3 535.2 L422.5 536.1 M418.3 535.2 L421.6 532.5 M457.3 530.8 L440.8 538.8 M440.8 538.8 L445.1 538.8 M440.8 538.8 L443.5 535.4 M478.3 530.8 L463.3 541.8 M463.3 541.8 L467.5 541.0 M463.3 541.8 L465.3 537.9 M499.3 530.8 L485.8 536.8 M485.8 536.8 L490.1 536.9 M485.8 536.8 L488.6 533.5 M520.3 530.8 L507.3 532.2 M507.3 532.2 L511.4 533.7 M507.3 532.2 L510.9 529.9 M541.3 530.8 L525.3 536.8 M525.3 536.8 L529.6 537.2 M525.3 536.8 L528.3 533.6 M562.3 530.8 L548.8 538.8 M548.8 538.8 L553.1 538.4 M548.8 538.8 L551.2 535.2 M583.3 530.8 L571.3 539.8 M571.3 539.8 L575.5 538.9 M571.3 539.8 L573.3 535.9 M604.3 530.8 L594.3 540.2 M594.3 540.2 L598.4 539.0 M594.3 540.2 L595.8 536.2 M625.3 530.8 L619.3 538.8 M619.3 538.8 L623.1 536.8 M619.3 538.8 L620.1 534.5 M646.3 530.8 L642.3 535.2 M642.3 535.2 L646.3 533.6 M642.3 535.2 L643.5 531.1 M667.3 530.8 L669.3 530.8 M669.3 530.8 L666.2 529.3 M669.3 530.8 L666.2 532.2 M142.3 549.6 L143.8 553.1 M143.8 553.1 L144.0 549.7 M143.8 553.1 L141.2 550.9 M163.3 549.6 L159.3 556.6 M159.3 556.6 L162.9 554.2 M159.3 556.6 L159.6 552.3 M184.3 549.6 L178.8 558.6 M178.8 558.6 L182.4 556.3 M178.8 558.6 L179.2 554.3 M205.3 549.6 L199.3 557.1 M199.3 557.1 L203.2 555.3 M199.3 557.1 L200.2 552.9 M226.3 549.6 L213.3 557.6 M213.3 557.6 L217.6 557.2 M213.3 557.6 L215.6 554.0 M247.3 549.6 L230.3 557.1 M230.3 557.1 L234.6 557.3 M230.3 557.1 L233.1 553.8 M268.3 549.6 L248.8 556.6 M248.8 556.6 L253.1 557.1 M248.8 556.6 L251.8 553.5 M289.3 549.6 L270.3 554.6 M270.3 554.6 L274.5 555.4 M270.3 554.6 L273.6 551.8 M310.3 549.6 L296.3 555.6 M296.3 555.6 L300.6 555.8 M296.3 555.6 L299.1 552.3 M331.3 549.6 L321.3 551.6 M321.3 551.6 L325.5 552.7 M321.3 551.6 L324.7 549.0 M352.3 549.6 L337.3 553.6 M337.3 553.6 L341.5 554.4 M337.3 553.6 L340.5 550.8 M373.3 549.6 L360.8 554.1 M360.8 554.1 L365.1 554.6 M360.8 554.1 L363.8 551.0 M394.3 549.6 L383.3 550.6 M383.3 550.6 L387.3 552.1 M383.3 550.6 L387.0 548.4 M415.3 549.6 L404.3 546.1 M404.3 546.1 L407.4 549.1 M404.3 546.1 L408.6 545.5 M436.3 549.6 L421.3 551.1 M421.3 551.1 L425.3 552.6 M421.3 551.1 L425.0 548.8 M457.3 549.6 L446.3 554.6 M446.3 554.6 L450.6 554.7 M446.3 554.6 L449.0 551.3 M478.3 549.6 L467.3 552.6 M467.3 552.6 L471.5 553.4 M467.3 552.6 L470.5 549.8 M499.3 549.6 L487.3 550.6 M487.3 550.6 L491.3 552.2 M487.3 550.6 L491.0 548.4 M520.3 549.6 L508.8 550.6 M508.8 550.6 L512.8 552.1 M508.8 550.6 L512.5 548.4 M541.3 549.6 L530.3 552.1 M530.3 552.1 L534.5 553.1 M530.3 552.1 L533.7 549.4 M562.3 549.6 L552.3 557.1 M552.3 557.1 L556.5 556.3 M552.3 557.1 L554.3 553.3 M583.3 549.6 L571.3 557.1 M571.3 557.1 L575.6 556.7 M571.3 557.1 L573.6 553.5 M604.3 549.6 L591.3 556.1 M591.3 556.1 L595.6 556.1 M591.3 556.1 L593.9 552.7 M625.3 549.6 L615.3 553.6 M615.3 553.6 L619.6 553.9 M615.3 553.6 L618.2 550.4 M646.3 549.6 L640.3 550.6 M640.3 550.6 L644.4 551.8 M640.3 550.6 L643.8 548.1 M667.3 549.6 L665.3 551.1 M665.3 551.1 L668.6 550.5 M665.3 551.1 L666.9 548.1" stroke="#000" stroke-width="0.7" fill="none" stroke-linecap="butt" shape-rendering="crispEdges"/>
</g>
<rect x="124.0" y="55.0" width="551.0" height="509.0" fill="none" stroke="#000" stroke-width="2" shape-rendering="crispEdges"/>
<g stroke="#000" stroke-width="1" shape-rendering="crispEdges">
<path d="M124.5 565.0 v3"/>
<path d="M195.5 565.0 v3"/>
<path d="M265.5 565.0 v3"/>
<path d="M336.5 565.0 v3"/>
<path d="M407.5 565.0 v3"/>
<path d="M478.5 565.0 v3"/>
<path d="M549.5 565.0 v3"/>
<path d="M619.5 565.0 v3"/>
<path d="M123.0 106.5 h-4"/>
<path d="M123.0 191.5 h-4"/>
<path d="M123.0 276.5 h-4"/>
<path d="M123.0 361.5 h-4"/>
<path d="M123.0 445.5 h-4"/>
<path d="M123.0 530.5 h-4"/>
</g>
<g font-size="12.5">
<text x="124.5" y="580" text-anchor="middle">28.5</text>
<text x="195.3" y="580" text-anchor="middle">29</text>
<text x="266.1" y="580" text-anchor="middle">29.5</text>
<text x="336.9" y="580" text-anchor="middle">30</text>
<text x="407.7" y="580" text-anchor="middle">30.5</text>
<text x="478.5" y="580" text-anchor="middle">31</text>
<text x="549.3" y="580" text-anchor="middle">31.5</text>
<text x="620.1" y="580" text-anchor="middle">32</text>
<text x="118.6" y="110.8" text-anchor="end">45.5</text>
<text x="118.6" y="195.6" text-anchor="end">45</text>
<text x="118.6" y="280.4" text-anchor="end">44.5</text>
<text x="118.6" y="365.2" text-anchor="end">44</text>
<text x="118.6" y="450.0" text-anchor="end">43.5</text>
<text x="118.6" y="534.8" text-anchor="end">43</text>
</g>
<g font-size="26">
<text x="19.3" y="43.3" textLength="83.5" lengthAdjust="spacingAndGlyphs">Current</text>
<text x="116.0" y="43.3" textLength="78.0" lengthAdjust="spacingAndGlyphs">velocity</text>
<text x="210.0" y="43.3" textLength="79.0" lengthAdjust="spacingAndGlyphs">(m/s).</text>
<text x="302.5" y="43.3" textLength="45.0" lengthAdjust="spacingAndGlyphs">Date</text>
<text x="362.5" y="43.3" textLength="137.5" lengthAdjust="spacingAndGlyphs">2019.06.13.</text>
<text x="516.0" y="43.3" textLength="51.5" lengthAdjust="spacingAndGlyphs">Time</text>
<text x="584.0" y="43.3" textLength="140.0" lengthAdjust="spacingAndGlyphs">00(h):00(m)</text>
<text x="740.0" y="43.3" textLength="43.3" lengthAdjust="spacingAndGlyphs">GMT</text>
</g>
<g font-size="19.5"><text x="323.5" y="605.5" textLength="86" lengthAdjust="spacing">Langitude</text><text x="421.5" y="605.5" textLength="55" lengthAdjust="spacing">(East)</text>
<g transform="translate(82,382) rotate(-90)"><text x="0" y="0" textLength="70" lengthAdjust="spacing">Latitude</text><text x="82" y="0" textLength="63" lengthAdjust="spacing">(North)</text></g></g>
<g font-size="19.5">
<text x="145.4" y="110.2" textLength="13.6" lengthAdjust="spacingAndGlyphs" style="fill:#3c3c3c">Z</text>
<text x="176.2" y="110.2" textLength="14.1" lengthAdjust="spacingAndGlyphs" style="fill:#3c3c3c">=</text>
<text x="206.3" y="110.2" textLength="34.2" lengthAdjust="spacingAndGlyphs" style="fill:#3c3c3c">2.5</text>
<text x="256.3" y="110.2" textLength="19.0" lengthAdjust="spacingAndGlyphs" style="fill:#3c3c3c">m</text>
</g>
<rect x="708" y="61" width="16" height="496" fill="url(#cb)" shape-rendering="crispEdges"/>
<g font-size="14">
<text x="735.2" y="73.7" textLength="29.2" lengthAdjust="spacing">1.34</text>
<text x="735.2" y="190.4" textLength="29.2" lengthAdjust="spacing">1.02</text>
<text x="735.2" y="312.4" textLength="29.2" lengthAdjust="spacing">0.68</text>
<text x="735.2" y="434.4" textLength="29.2" lengthAdjust="spacing">0.34</text>
<text x="735.2" y="556.2" textLength="29.2" lengthAdjust="spacing">0.00</text>
</g>
</svg></body></html>
